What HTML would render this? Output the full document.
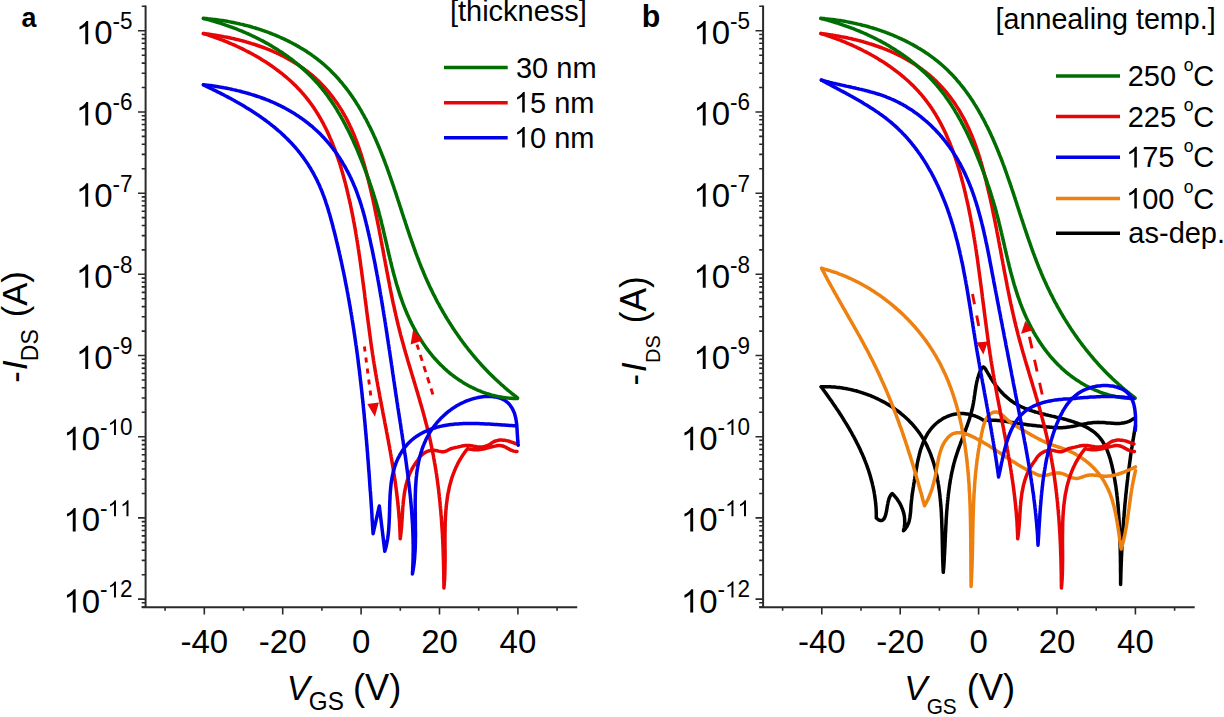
<!DOCTYPE html>
<html><head><meta charset="utf-8"><style>
html,body{margin:0;padding:0;background:#fff;}
body{width:1224px;height:717px;overflow:hidden;}
svg{display:block;font-family:"Liberation Sans",sans-serif;}
</style></head><body>
<svg width="1224" height="717" viewBox="0 0 1224 717">
<rect width="1224" height="717" fill="#fff"/>
<path d="M145.6,5.4V608.1" stroke="#2a2a2a" stroke-width="2" fill="none"/>
<path d="M141.7,607.2H577.2" stroke="#2a2a2a" stroke-width="2" fill="none"/>
<path d="M141.7,607H145.6M141.7,602.8H145.6M138,599.1H145.6M141.7,574.7H145.6M141.7,560.4H145.6M141.7,550.2H145.6M141.7,542.4H145.6M141.7,535.9H145.6M141.7,530.5H145.6M141.7,525.8H145.6M141.7,521.6H145.6M138,517.9H145.6M141.7,493.5H145.6M141.7,479.2H145.6M141.7,469H145.6M141.7,461.2H145.6M141.7,454.7H145.6M141.7,449.3H145.6M141.7,444.6H145.6M141.7,440.4H145.6M138,436.7H145.6M141.7,412.3H145.6M141.7,398H145.6M141.7,387.8H145.6M141.7,380H145.6M141.7,373.5H145.6M141.7,368.1H145.6M141.7,363.4H145.6M141.7,359.2H145.6M138,355.5H145.6M141.7,331.1H145.6M141.7,316.8H145.6M141.7,306.6H145.6M141.7,298.8H145.6M141.7,292.4H145.6M141.7,286.9H145.6M141.7,282.2H145.6M141.7,278.1H145.6M138,274.3H145.6M141.7,249.9H145.6M141.7,235.6H145.6M141.7,225.5H145.6M141.7,217.6H145.6M141.7,211.2H145.6M141.7,205.7H145.6M141.7,201H145.6M141.7,196.9H145.6M138,193.2H145.6M141.7,168.7H145.6M141.7,154.4H145.6M141.7,144.3H145.6M141.7,136.4H145.6M141.7,130H145.6M141.7,124.5H145.6M141.7,119.8H145.6M141.7,115.7H145.6M138,112H145.6M141.7,87.5H145.6M141.7,73.2H145.6M141.7,63.1H145.6M141.7,55.2H145.6M141.7,48.8H145.6M141.7,43.3H145.6M141.7,38.6H145.6M141.7,34.5H145.6M138,30.8H145.6M141.7,6.3H145.6" stroke="#2a2a2a" stroke-width="1.6" fill="none"/>
<path d="M165.1,607.2V610.8M204.3,607.2V614.4M243.5,607.2V610.8M282.7,607.2V614.4M321.9,607.2V610.8M361.1,607.2V614.4M400.3,607.2V610.8M439.5,607.2V614.4M478.7,607.2V610.8M517.9,607.2V614.4M557.1,607.2V610.8" stroke="#2a2a2a" stroke-width="1.6" fill="none"/>
<g transform="translate(132.6,612.6) scale(1,1.03)" fill="#000"><path transform="translate(-69.23,0) scale(0.01611,-0.01611)" d="M583,0L583,1102Q518,1043 420,985Q307,924 223,894L223,1061Q374,1129 480,1220Q604,1325 647,1409L763,1409L763,0Z"/><text x="-50.87" y="0" font-size="33">0</text><text x="-32.52" y="-14.69" font-size="22.5">-</text><path transform="translate(-25.03,-14.69) scale(0.01099,-0.01099)" d="M583,0L583,1102Q518,1043 420,985Q307,924 223,894L223,1061Q374,1129 480,1220Q604,1325 647,1409L763,1409L763,0Z"/><text x="-12.51" y="-14.69" font-size="22.5">2</text></g>
<g transform="translate(132.6,531.41) scale(1,1.03)" fill="#000"><path transform="translate(-69.23,0) scale(0.01611,-0.01611)" d="M583,0L583,1102Q518,1043 420,985Q307,924 223,894L223,1061Q374,1129 480,1220Q604,1325 647,1409L763,1409L763,0Z"/><text x="-50.87" y="0" font-size="33">0</text><text x="-32.52" y="-14.69" font-size="22.5">-</text><path transform="translate(-25.03,-14.69) scale(0.01099,-0.01099)" d="M583,0L583,1102Q518,1043 420,985Q307,924 223,894L223,1061Q374,1129 480,1220Q604,1325 647,1409L763,1409L763,0Z"/><path transform="translate(-12.51,-14.69) scale(0.01099,-0.01099)" d="M583,0L583,1102Q518,1043 420,985Q307,924 223,894L223,1061Q374,1129 480,1220Q604,1325 647,1409L763,1409L763,0Z"/></g>
<g transform="translate(132.6,450.22) scale(1,1.03)" fill="#000"><path transform="translate(-69.23,0) scale(0.01611,-0.01611)" d="M583,0L583,1102Q518,1043 420,985Q307,924 223,894L223,1061Q374,1129 480,1220Q604,1325 647,1409L763,1409L763,0Z"/><text x="-50.87" y="0" font-size="33">0</text><text x="-32.52" y="-14.69" font-size="22.5">-</text><path transform="translate(-25.03,-14.69) scale(0.01099,-0.01099)" d="M583,0L583,1102Q518,1043 420,985Q307,924 223,894L223,1061Q374,1129 480,1220Q604,1325 647,1409L763,1409L763,0Z"/><text x="-12.51" y="-14.69" font-size="22.5">0</text></g>
<g transform="translate(132.6,369.03) scale(1,1.03)" fill="#000"><path transform="translate(-56.71,0) scale(0.01611,-0.01611)" d="M583,0L583,1102Q518,1043 420,985Q307,924 223,894L223,1061Q374,1129 480,1220Q604,1325 647,1409L763,1409L763,0Z"/><text x="-38.36" y="0" font-size="33">0</text><text x="-20.01" y="-14.69" font-size="22.5">-9</text></g>
<g transform="translate(132.6,287.84) scale(1,1.03)" fill="#000"><path transform="translate(-56.71,0) scale(0.01611,-0.01611)" d="M583,0L583,1102Q518,1043 420,985Q307,924 223,894L223,1061Q374,1129 480,1220Q604,1325 647,1409L763,1409L763,0Z"/><text x="-38.36" y="0" font-size="33">0</text><text x="-20.01" y="-14.69" font-size="22.5">-8</text></g>
<g transform="translate(132.6,206.65) scale(1,1.03)" fill="#000"><path transform="translate(-56.71,0) scale(0.01611,-0.01611)" d="M583,0L583,1102Q518,1043 420,985Q307,924 223,894L223,1061Q374,1129 480,1220Q604,1325 647,1409L763,1409L763,0Z"/><text x="-38.36" y="0" font-size="33">0</text><text x="-20.01" y="-14.69" font-size="22.5">-7</text></g>
<g transform="translate(132.6,125.46) scale(1,1.03)" fill="#000"><path transform="translate(-56.71,0) scale(0.01611,-0.01611)" d="M583,0L583,1102Q518,1043 420,985Q307,924 223,894L223,1061Q374,1129 480,1220Q604,1325 647,1409L763,1409L763,0Z"/><text x="-38.36" y="0" font-size="33">0</text><text x="-20.01" y="-14.69" font-size="22.5">-6</text></g>
<g transform="translate(132.6,44.27) scale(1,1.03)" fill="#000"><path transform="translate(-56.71,0) scale(0.01611,-0.01611)" d="M583,0L583,1102Q518,1043 420,985Q307,924 223,894L223,1061Q374,1129 480,1220Q604,1325 647,1409L763,1409L763,0Z"/><text x="-38.36" y="0" font-size="33">0</text><text x="-20.01" y="-14.69" font-size="22.5">-5</text></g>
<g transform="translate(204.3,652.6) scale(1,1.03)" fill="#000"><text x="-23.85" y="0" font-size="33">-40</text></g>
<g transform="translate(282.7,652.6) scale(1,1.03)" fill="#000"><text x="-23.85" y="0" font-size="33">-20</text></g>
<g transform="translate(361.1,652.6) scale(1,1.03)" fill="#000"><text x="-9.18" y="0" font-size="33">0</text></g>
<g transform="translate(439.5,652.6) scale(1,1.03)" fill="#000"><text x="-18.35" y="0" font-size="33">20</text></g>
<g transform="translate(517.9,652.6) scale(1,1.03)" fill="#000"><text x="-18.35" y="0" font-size="33">40</text></g>
<path d="M763.1,5.4V608.1" stroke="#2a2a2a" stroke-width="2" fill="none"/>
<path d="M759.2,607.2H1194.7" stroke="#2a2a2a" stroke-width="2" fill="none"/>
<path d="M759.2,607H763.1M759.2,602.8H763.1M755.5,599.1H763.1M759.2,574.7H763.1M759.2,560.4H763.1M759.2,550.2H763.1M759.2,542.4H763.1M759.2,535.9H763.1M759.2,530.5H763.1M759.2,525.8H763.1M759.2,521.6H763.1M755.5,517.9H763.1M759.2,493.5H763.1M759.2,479.2H763.1M759.2,469H763.1M759.2,461.2H763.1M759.2,454.7H763.1M759.2,449.3H763.1M759.2,444.6H763.1M759.2,440.4H763.1M755.5,436.7H763.1M759.2,412.3H763.1M759.2,398H763.1M759.2,387.8H763.1M759.2,380H763.1M759.2,373.5H763.1M759.2,368.1H763.1M759.2,363.4H763.1M759.2,359.2H763.1M755.5,355.5H763.1M759.2,331.1H763.1M759.2,316.8H763.1M759.2,306.6H763.1M759.2,298.8H763.1M759.2,292.4H763.1M759.2,286.9H763.1M759.2,282.2H763.1M759.2,278.1H763.1M755.5,274.3H763.1M759.2,249.9H763.1M759.2,235.6H763.1M759.2,225.5H763.1M759.2,217.6H763.1M759.2,211.2H763.1M759.2,205.7H763.1M759.2,201H763.1M759.2,196.9H763.1M755.5,193.2H763.1M759.2,168.7H763.1M759.2,154.4H763.1M759.2,144.3H763.1M759.2,136.4H763.1M759.2,130H763.1M759.2,124.5H763.1M759.2,119.8H763.1M759.2,115.7H763.1M755.5,112H763.1M759.2,87.5H763.1M759.2,73.2H763.1M759.2,63.1H763.1M759.2,55.2H763.1M759.2,48.8H763.1M759.2,43.3H763.1M759.2,38.6H763.1M759.2,34.5H763.1M755.5,30.8H763.1M759.2,6.3H763.1" stroke="#2a2a2a" stroke-width="1.6" fill="none"/>
<path d="M782.6,607.2V610.8M821.8,607.2V614.4M861,607.2V610.8M900.2,607.2V614.4M939.4,607.2V610.8M978.6,607.2V614.4M1017.8,607.2V610.8M1057,607.2V614.4M1096.2,607.2V610.8M1135.4,607.2V614.4M1174.6,607.2V610.8" stroke="#2a2a2a" stroke-width="1.6" fill="none"/>
<g transform="translate(750.1,612.6) scale(1,1.03)" fill="#000"><path transform="translate(-69.23,0) scale(0.01611,-0.01611)" d="M583,0L583,1102Q518,1043 420,985Q307,924 223,894L223,1061Q374,1129 480,1220Q604,1325 647,1409L763,1409L763,0Z"/><text x="-50.87" y="0" font-size="33">0</text><text x="-32.52" y="-14.69" font-size="22.5">-</text><path transform="translate(-25.03,-14.69) scale(0.01099,-0.01099)" d="M583,0L583,1102Q518,1043 420,985Q307,924 223,894L223,1061Q374,1129 480,1220Q604,1325 647,1409L763,1409L763,0Z"/><text x="-12.51" y="-14.69" font-size="22.5">2</text></g>
<g transform="translate(750.1,531.41) scale(1,1.03)" fill="#000"><path transform="translate(-69.23,0) scale(0.01611,-0.01611)" d="M583,0L583,1102Q518,1043 420,985Q307,924 223,894L223,1061Q374,1129 480,1220Q604,1325 647,1409L763,1409L763,0Z"/><text x="-50.87" y="0" font-size="33">0</text><text x="-32.52" y="-14.69" font-size="22.5">-</text><path transform="translate(-25.03,-14.69) scale(0.01099,-0.01099)" d="M583,0L583,1102Q518,1043 420,985Q307,924 223,894L223,1061Q374,1129 480,1220Q604,1325 647,1409L763,1409L763,0Z"/><path transform="translate(-12.51,-14.69) scale(0.01099,-0.01099)" d="M583,0L583,1102Q518,1043 420,985Q307,924 223,894L223,1061Q374,1129 480,1220Q604,1325 647,1409L763,1409L763,0Z"/></g>
<g transform="translate(750.1,450.22) scale(1,1.03)" fill="#000"><path transform="translate(-69.23,0) scale(0.01611,-0.01611)" d="M583,0L583,1102Q518,1043 420,985Q307,924 223,894L223,1061Q374,1129 480,1220Q604,1325 647,1409L763,1409L763,0Z"/><text x="-50.87" y="0" font-size="33">0</text><text x="-32.52" y="-14.69" font-size="22.5">-</text><path transform="translate(-25.03,-14.69) scale(0.01099,-0.01099)" d="M583,0L583,1102Q518,1043 420,985Q307,924 223,894L223,1061Q374,1129 480,1220Q604,1325 647,1409L763,1409L763,0Z"/><text x="-12.51" y="-14.69" font-size="22.5">0</text></g>
<g transform="translate(750.1,369.03) scale(1,1.03)" fill="#000"><path transform="translate(-56.71,0) scale(0.01611,-0.01611)" d="M583,0L583,1102Q518,1043 420,985Q307,924 223,894L223,1061Q374,1129 480,1220Q604,1325 647,1409L763,1409L763,0Z"/><text x="-38.36" y="0" font-size="33">0</text><text x="-20.01" y="-14.69" font-size="22.5">-9</text></g>
<g transform="translate(750.1,287.84) scale(1,1.03)" fill="#000"><path transform="translate(-56.71,0) scale(0.01611,-0.01611)" d="M583,0L583,1102Q518,1043 420,985Q307,924 223,894L223,1061Q374,1129 480,1220Q604,1325 647,1409L763,1409L763,0Z"/><text x="-38.36" y="0" font-size="33">0</text><text x="-20.01" y="-14.69" font-size="22.5">-8</text></g>
<g transform="translate(750.1,206.65) scale(1,1.03)" fill="#000"><path transform="translate(-56.71,0) scale(0.01611,-0.01611)" d="M583,0L583,1102Q518,1043 420,985Q307,924 223,894L223,1061Q374,1129 480,1220Q604,1325 647,1409L763,1409L763,0Z"/><text x="-38.36" y="0" font-size="33">0</text><text x="-20.01" y="-14.69" font-size="22.5">-7</text></g>
<g transform="translate(750.1,125.46) scale(1,1.03)" fill="#000"><path transform="translate(-56.71,0) scale(0.01611,-0.01611)" d="M583,0L583,1102Q518,1043 420,985Q307,924 223,894L223,1061Q374,1129 480,1220Q604,1325 647,1409L763,1409L763,0Z"/><text x="-38.36" y="0" font-size="33">0</text><text x="-20.01" y="-14.69" font-size="22.5">-6</text></g>
<g transform="translate(750.1,44.27) scale(1,1.03)" fill="#000"><path transform="translate(-56.71,0) scale(0.01611,-0.01611)" d="M583,0L583,1102Q518,1043 420,985Q307,924 223,894L223,1061Q374,1129 480,1220Q604,1325 647,1409L763,1409L763,0Z"/><text x="-38.36" y="0" font-size="33">0</text><text x="-20.01" y="-14.69" font-size="22.5">-5</text></g>
<g transform="translate(821.8,652.6) scale(1,1.03)" fill="#000"><text x="-23.85" y="0" font-size="33">-40</text></g>
<g transform="translate(900.2,652.6) scale(1,1.03)" fill="#000"><text x="-23.85" y="0" font-size="33">-20</text></g>
<g transform="translate(978.6,652.6) scale(1,1.03)" fill="#000"><text x="-9.18" y="0" font-size="33">0</text></g>
<g transform="translate(1057,652.6) scale(1,1.03)" fill="#000"><text x="-18.35" y="0" font-size="33">20</text></g>
<g transform="translate(1135.4,652.6) scale(1,1.03)" fill="#000"><text x="-18.35" y="0" font-size="33">40</text></g>
<path d="M203.4,33.5 204.8,33.9 206.2,34.4 207.7,34.9 209.1,35.3 210.5,35.8 211.9,36.3 213.4,36.8 214.8,37.3 216.2,37.8 217.6,38.3 219,38.8 220.4,39.4 221.9,39.9 223.3,40.5 224.7,41 226.1,41.6 227.5,42.2 228.9,42.8 230.3,43.4 231.7,44 233.1,44.6 234.5,45.2 235.9,45.8 237.3,46.5 238.7,47.1 240,47.8 241.4,48.4 242.8,49.1 244.2,49.8 245.5,50.5 246.9,51.2 248.3,51.9 249.6,52.6 251,53.3 252.3,54 253.6,54.8 255,55.5 256.3,56.3 257.6,57 258.9,57.8 260.2,58.6 261.5,59.4 262.8,60.2 264.1,61 265.4,61.8 266.7,62.6 268,63.5 269.2,64.3 270.5,65.2 271.7,66 273,66.9 274.2,67.8 275.4,68.7 276.6,69.6 277.8,70.5 279,71.4 280.2,72.3 281.4,73.2 282.6,74.2 283.8,75.1 284.9,76.1 286.1,77 287.2,78 288.3,79 289.5,80 290.6,81 291.7,82 292.7,83 293.8,84.1 294.9,85.1 295.9,86.1 297,87.2 298,88.3 299,89.3 300.1,90.4 301.1,91.5 302,92.6 303,93.7 304,94.9 304.9,96 305.9,97.1 306.8,98.3 307.7,99.4 308.6,100.6 309.5,101.8 310.4,103 311.2,104.1 312.1,105.3 312.9,106.5 313.8,107.8 314.6,109 315.4,110.2 316.2,111.5 317,112.7 317.8,114 318.5,115.2 319.3,116.5 320,117.8 320.8,119 321.5,120.3 322.2,121.6 322.9,122.9 323.6,124.2 324.3,125.6 325,126.9 325.6,128.2 326.3,129.5 326.9,130.9 327.6,132.2 328.2,133.6 328.8,134.9 329.4,136.3 330,137.7 330.6,139 331.2,140.4 331.8,141.8 332.4,143.2 332.9,144.6 333.5,146 334,147.4 334.6,148.8 335.1,150.2 335.6,151.6 336.1,153 336.6,154.4 337.1,155.8 337.6,157.3 338.1,158.7 338.6,160.1 339.1,161.6 339.5,163 340,164.4 340.4,165.9 340.9,167.3 341.3,168.8 341.7,170.2 342.2,171.7 342.6,173.1 343,174.6 343.4,176.1 343.8,177.5 344.2,179 344.6,180.5 345,181.9 345.4,183.4 345.8,184.9 346.1,186.3 346.5,187.8 346.9,189.3 347.2,190.7 347.6,192.2 347.9,193.7 348.3,195.2 348.6,196.6 348.9,198.1 349.3,199.6 349.6,201.1 349.9,202.5 350.3,204 350.6,205.5 350.9,207 351.2,208.4 351.5,209.9 351.8,211.4 352.1,212.9 352.4,214.4 352.7,215.8 353,217.3 353.3,218.8 353.5,220.3 353.8,221.8 354.1,223.2 354.4,224.7 354.6,226.2 354.9,227.7 355.2,229.2 355.4,230.7 355.7,232.1 355.9,233.6 356.2,235.1 356.4,236.6 356.7,238.1 356.9,239.6 357.2,241.1 357.4,242.5 357.6,244 357.9,245.5 358.1,247 358.3,248.5 358.6,250 358.8,251.5 359,253 359.2,254.5 359.4,255.9 359.7,257.4 359.9,258.9 360.1,260.4 360.3,261.9 360.5,263.4 360.7,264.9 360.9,266.4 361.1,267.9 361.3,269.4 361.5,270.8 361.7,272.3 361.9,273.8 362.1,275.3 362.3,276.8 362.5,278.3 362.7,279.8 362.9,281.3 363.1,282.8 363.3,284.3 363.5,285.8 363.7,287.3 363.9,288.7 364.1,290.2 364.3,291.7 364.5,293.2 364.7,294.7 364.8,296.2 365,297.7 365.2,299.2 365.4,300.7 365.6,302.2 365.8,303.7 366,305.2 366.2,306.7 366.4,308.1 366.5,309.6 366.7,311.1 366.9,312.6 367.1,314.1 367.3,315.6 367.5,317.1 367.7,318.6 367.9,320.1 368.1,321.6 368.3,323.1 368.5,324.6 368.7,326 368.9,327.5 369.1,329 369.3,330.5 369.5,332 369.7,333.5 369.9,335 370.1,336.5 370.3,338 370.5,339.5 370.7,341 370.9,342.4 371.1,343.9 371.3,345.4 371.5,346.9 371.7,348.4 372,349.9 372.2,351.4 372.4,352.9 372.6,354.3 372.9,355.8 373.1,357.3 373.3,358.8 373.5,360.3 373.8,361.8 374,363.3 374.3,364.7 374.5,366.2 374.7,367.7 375,369.2 375.2,370.7 375.5,372.2 375.7,373.6 376,375.1 376.3,376.6 376.5,378.1 376.8,379.6 377,381.1 377.3,382.5 377.6,384 377.8,385.5 378.1,387 378.4,388.5 378.6,389.9 378.9,391.4 379.2,392.9 379.5,394.4 379.7,395.8 380,397.3 380.3,398.8 380.6,400.3 380.9,401.8 381.1,403.2 381.4,404.7 381.7,406.2 382,407.7 382.3,409.2 382.6,410.6 382.8,412.1 383.1,413.6 383.4,415.1 383.7,416.5 384,418 384.3,419.5 384.6,421 384.8,422.5 385.1,423.9 385.4,425.4 385.7,426.9 386,428.4 386.3,429.8 386.5,431.3 386.8,432.8 387.1,434.3 387.4,435.8 387.6,437.2 387.9,438.7 388.2,440.2 388.5,441.7 388.7,443.2 389,444.6 389.3,446.1 389.6,447.6 389.8,449.1 390.1,450.6 390.4,452 390.6,453.5 390.9,455 391.1,456.5 391.4,458 391.6,459.4 391.9,460.9 392.1,462.4 392.4,463.9 392.6,465.4 392.9,466.9 393.1,468.3 393.4,469.8 393.6,471.3 393.8,472.8 394.1,474.3 394.3,475.8 394.5,477.3 394.7,478.7 394.9,480.2 395.2,481.7 395.4,483.2 395.6,484.7 395.8,486.2 396,487.7 396.2,489.2 396.4,490.7 396.6,492.2 396.7,493.6 396.9,495.1 397.1,496.6 397.3,498.1 397.4,499.6 397.6,501.1 397.8,502.6 397.9,504.1 398.1,505.6 398.2,507.1 398.4,508.6 398.5,510.1 398.7,511.6 398.8,513.1 398.9,514.6 399,516.1 399.1,517.6 399.3,519.1 399.4,520.6 399.5,522.1 399.6,523.6 399.6,525.1 399.7,526.6 399.8,528.1 399.9,529.6 399.9,531.1 400,532.7 400.1,534.2 400.1,535.7 400.2,537.2 400.2,538.7 400.4,537.2 400.6,535.7 400.8,534.2 401,532.7 401.1,531.1 401.3,529.6 401.4,528.1 401.6,526.6 401.7,525 401.8,523.5 401.9,521.9 402,520.4 402.1,518.8 402.2,517.3 402.3,515.7 402.4,514.2 402.5,512.6 402.6,511.1 402.7,509.5 402.8,508 402.9,506.4 403.1,504.9 403.2,503.3 403.3,501.8 403.5,500.2 403.7,498.7 403.9,497.2 404.1,495.6 404.3,494.1 404.5,492.6 404.8,491.1 405.1,489.6 405.4,488.1 405.7,486.6 406,485.1 406.4,483.6 406.8,482.2 407.2,480.7 407.7,479.3 408.2,477.8 408.7,476.4 409.2,475 409.8,473.6 410.4,472.2 411.1,470.8 411.8,469.4 412.5,468.1 413.3,466.7 414.1,465.4 415,464.1 415.9,462.8 416.8,461.5 417.8,460.2 418.6,458.8 419.5,457.5 420.4,456.3 421.5,455.2 422.7,454.2 423.9,453.2 425.3,452.4 426.6,451.7 428,451.1 429.5,450.7 431,450.4 432.5,450.2 434,450.2 435.5,450.4 437,450.7 438.5,451.1 440,451.4 441.5,451.7 443,451.8 444.4,451.7 445.9,451.2 447.3,450.5 448.7,449.7 450.1,449 451.6,448.5 453.1,448.1 454.5,447.8 456,447.4 457.5,447.1 459,446.7 460.5,446.4 462.1,446 463.6,445.8 465.1,445.6 466.6,445.5 468.1,445.5 469.6,445.6 471.1,445.7 472.6,446 474.1,446.3 475.6,446.5 477.1,446.8 478.6,446.9 480.1,447 481.7,447 483.2,446.8 484.7,446.5 486.2,446 487.7,445.4 489.1,444.7 490.4,443.9 491.7,443.1 492.9,442.2 494.2,441.5 495.6,441 497,440.6 498.5,440.3 500,440.1 501.5,440.1 503.1,440.2 504.7,440.3 506.2,440.6 507.8,440.9 509.3,441.3 510.8,441.8 512.3,442.3 513.7,442.8 515.1,443.4 516.4,444" stroke="#e80505" stroke-width="3.5" fill="none" stroke-linejoin="round" stroke-linecap="round"/>
<path d="M203.4,33.5 204.8,33.7 206.3,33.9 207.7,34.1 209.2,34.3 210.6,34.5 212.1,34.7 213.5,34.9 215,35.1 216.5,35.4 217.9,35.6 219.4,35.9 220.9,36.1 222.3,36.4 223.8,36.7 225.3,36.9 226.8,37.2 228.2,37.5 229.7,37.8 231.2,38.2 232.7,38.5 234.2,38.8 235.6,39.2 237.1,39.5 238.6,39.9 240.1,40.3 241.5,40.6 243,41 244.5,41.4 245.9,41.8 247.4,42.3 248.9,42.7 250.3,43.1 251.8,43.6 253.2,44 254.7,44.5 256.2,45 257.6,45.5 259,46 260.5,46.5 261.9,47 263.4,47.5 264.8,48 266.2,48.6 267.6,49.2 269,49.7 270.5,50.3 271.9,50.9 273.3,51.5 274.6,52.1 276,52.7 277.4,53.4 278.8,54 280.1,54.7 281.5,55.4 282.9,56 284.2,56.7 285.5,57.4 286.9,58.2 288.2,58.9 289.5,59.6 290.8,60.4 292.1,61.1 293.4,61.9 294.7,62.7 296,63.5 297.2,64.3 298.5,65.1 299.7,66 301,66.8 302.2,67.7 303.4,68.5 304.6,69.4 305.8,70.3 307,71.2 308.2,72.1 309.4,73.1 310.5,74 311.7,74.9 312.8,75.9 313.9,76.9 315.1,77.9 316.2,78.9 317.2,79.9 318.3,80.9 319.4,81.9 320.4,83 321.5,84 322.5,85.1 323.5,86.2 324.5,87.3 325.5,88.4 326.5,89.5 327.5,90.6 328.4,91.7 329.4,92.9 330.3,94 331.2,95.2 332.1,96.4 333,97.6 333.9,98.8 334.8,100 335.7,101.2 336.5,102.4 337.4,103.6 338.2,104.9 339,106.1 339.8,107.4 340.6,108.6 341.4,109.9 342.2,111.2 342.9,112.5 343.7,113.8 344.4,115.1 345.1,116.4 345.9,117.7 346.6,119 347.3,120.3 347.9,121.7 348.6,123 349.3,124.4 349.9,125.7 350.6,127.1 351.2,128.4 351.8,129.8 352.4,131.2 353,132.6 353.6,133.9 354.2,135.3 354.8,136.7 355.3,138.1 355.9,139.5 356.4,140.9 356.9,142.3 357.5,143.7 358,145.2 358.5,146.6 359,148 359.5,149.4 359.9,150.9 360.4,152.3 360.9,153.7 361.4,155.2 361.8,156.6 362.3,158.1 362.7,159.5 363.1,161 363.6,162.4 364,163.9 364.4,165.3 364.8,166.8 365.2,168.2 365.6,169.7 366,171.2 366.4,172.6 366.8,174.1 367.2,175.5 367.5,177 367.9,178.5 368.3,179.9 368.7,181.4 369,182.9 369.4,184.3 369.7,185.8 370.1,187.3 370.4,188.7 370.8,190.2 371.1,191.7 371.5,193.2 371.8,194.6 372.1,196.1 372.5,197.6 372.8,199 373.1,200.5 373.4,202 373.8,203.5 374.1,204.9 374.4,206.4 374.7,207.9 375,209.4 375.3,210.8 375.6,212.3 375.9,213.8 376.2,215.3 376.5,216.7 376.8,218.2 377.1,219.7 377.4,221.2 377.7,222.6 378,224.1 378.3,225.6 378.6,227.1 378.9,228.5 379.2,230 379.4,231.5 379.7,233 380,234.4 380.3,235.9 380.6,237.4 380.9,238.9 381.1,240.3 381.4,241.8 381.7,243.3 382,244.8 382.2,246.3 382.5,247.7 382.8,249.2 383.1,250.7 383.3,252.2 383.6,253.6 383.9,255.1 384.2,256.6 384.4,258.1 384.7,259.5 385,261 385.3,262.5 385.5,264 385.8,265.4 386.1,266.9 386.4,268.4 386.6,269.9 386.9,271.3 387.2,272.8 387.5,274.3 387.8,275.8 388,277.2 388.3,278.7 388.6,280.2 388.9,281.7 389.2,283.1 389.5,284.6 389.7,286.1 390,287.6 390.3,289 390.6,290.5 390.9,292 391.2,293.4 391.5,294.9 391.8,296.4 392.1,297.8 392.4,299.3 392.7,300.8 393,302.3 393.3,303.7 393.7,305.2 394,306.7 394.3,308.1 394.6,309.6 394.9,311.1 395.3,312.5 395.6,314 395.9,315.4 396.3,316.9 396.6,318.4 396.9,319.8 397.3,321.3 397.6,322.8 398,324.2 398.3,325.7 398.7,327.1 399.1,328.6 399.4,330.1 399.8,331.5 400.2,333 400.5,334.4 400.9,335.9 401.3,337.3 401.7,338.8 402.1,340.2 402.5,341.7 402.9,343.1 403.3,344.6 403.7,346 404.1,347.5 404.5,348.9 404.9,350.4 405.3,351.8 405.7,353.3 406.2,354.7 406.6,356.2 407,357.6 407.4,359.1 407.8,360.5 408.3,362 408.7,363.4 409.1,364.9 409.6,366.3 410,367.8 410.4,369.2 410.9,370.6 411.3,372.1 411.7,373.5 412.2,375 412.6,376.4 413,377.9 413.5,379.3 413.9,380.8 414.3,382.2 414.8,383.6 415.2,385.1 415.6,386.5 416.1,388 416.5,389.4 416.9,390.9 417.4,392.3 417.8,393.8 418.2,395.2 418.6,396.6 419.1,398.1 419.5,399.5 419.9,401 420.3,402.4 420.7,403.9 421.2,405.3 421.6,406.8 422,408.2 422.4,409.7 422.8,411.1 423.2,412.6 423.6,414 424,415.5 424.4,416.9 424.8,418.4 425.1,419.8 425.5,421.3 425.9,422.7 426.3,424.2 426.7,425.6 427,427.1 427.4,428.5 427.7,430 428.1,431.5 428.5,432.9 428.8,434.4 429.1,435.8 429.5,437.3 429.8,438.8 430.2,440.2 430.5,441.7 430.8,443.1 431.1,444.6 431.4,446.1 431.7,447.5 432,449 432.3,450.5 432.6,451.9 432.9,453.4 433.2,454.9 433.5,456.4 433.7,457.8 434,459.3 434.3,460.8 434.5,462.3 434.8,463.7 435,465.2 435.3,466.7 435.5,468.2 435.8,469.6 436,471.1 436.2,472.6 436.5,474.1 436.7,475.6 436.9,477.1 437.1,478.5 437.3,480 437.5,481.5 437.7,483 437.9,484.5 438.1,486 438.3,487.5 438.5,489 438.7,490.4 438.8,491.9 439,493.4 439.2,494.9 439.3,496.4 439.5,497.9 439.7,499.4 439.8,500.9 440,502.4 440.1,503.9 440.2,505.4 440.4,506.9 440.5,508.4 440.7,509.9 440.8,511.4 440.9,512.9 441,514.4 441.2,515.9 441.3,517.4 441.4,518.9 441.5,520.4 441.6,521.9 441.7,523.4 441.8,524.9 441.9,526.4 442,527.9 442.1,529.4 442.2,530.9 442.3,532.4 442.4,533.9 442.5,535.4 442.5,536.9 442.6,538.4 442.7,539.9 442.8,541.4 442.8,542.9 442.9,544.4 443,545.9 443,547.4 443.1,548.9 443.1,550.4 443.2,551.9 443.2,553.4 443.3,554.9 443.3,556.4 443.4,558 443.4,559.5 443.5,561 443.5,562.5 443.5,564 443.6,565.5 443.6,567 443.6,568.5 443.7,570 443.7,571.5 443.7,573 443.8,574.5 443.8,576 443.8,577.5 443.8,579.1 443.8,580.6 443.9,582.1 443.9,583.6 443.9,585.1 443.9,586.6 443.9,588.1 444,586.6 444.2,585.2 444.3,583.7 444.4,582.2 444.5,580.8 444.6,579.3 444.7,577.8 444.7,576.3 444.8,574.8 444.8,573.3 444.9,571.8 444.9,570.3 445,568.8 445,567.3 445,565.8 445,564.2 445.1,562.7 445.1,561.2 445.1,559.7 445.1,558.1 445.1,556.6 445.1,555 445.1,553.5 445.1,552 445.1,550.4 445,548.9 445,547.3 445,545.8 445,544.2 445,542.7 445,541.1 445,539.6 445,538 445,536.5 445,534.9 445,533.4 445.1,531.8 445.1,530.3 445.1,528.7 445.1,527.2 445.2,525.6 445.2,524.1 445.2,522.6 445.3,521 445.4,519.5 445.4,517.9 445.5,516.4 445.6,514.9 445.7,513.3 445.8,511.8 445.9,510.3 446.1,508.8 446.2,507.2 446.3,505.7 446.5,504.2 446.7,502.7 446.9,501.2 447.1,499.7 447.3,498.2 447.5,496.7 447.7,495.2 448,493.7 448.3,492.3 448.6,490.8 448.9,489.3 449.2,487.9 449.5,486.4 449.9,484.9 450.3,483.5 450.7,482.1 451.1,480.6 451.5,479.2 451.9,477.8 452.4,476.4 452.9,475 453.4,473.6 454,472.2 454.5,470.8 455.1,469.4 455.7,468.1 456.3,466.7 457,465.3 457.6,464 458.3,462.7 459,461.3 459.8,460 460.6,458.7 461.4,457.4 462.2,456.1 463,454.8 463.9,453.6 464.8,452.3 465.7,451.1 466.7,449.8 467.7,448.6 469.2,449 470.8,449.3 472.3,449.5 473.9,449.7 475.4,449.8 476.9,449.7 478.5,449.7 480,449.5 481.5,449.3 483.1,449 484.6,448.7 486.1,448.3 487.7,447.9 489.2,447.5 490.7,447.1 492.3,446.7 493.8,446.4 495.3,446.1 496.8,445.8 498.3,445.6 499.8,445.6 501.3,445.7 502.7,446 504.1,446.5 505.5,447.1 506.8,447.9 508.2,448.6 509.6,449.4 511,450.1 512.5,450.7 513.9,451.1 515.4,451.4 517,451.5" stroke="#e80505" stroke-width="3.5" fill="none" stroke-linejoin="round" stroke-linecap="round"/>
<path d="M203.4,84.9 204.7,85.5 206.1,86.2 207.4,86.8 208.7,87.4 210.1,88.1 211.4,88.7 212.8,89.4 214.1,90.1 215.4,90.7 216.8,91.4 218.1,92.1 219.5,92.7 220.8,93.4 222.1,94.1 223.5,94.8 224.8,95.5 226.2,96.2 227.5,96.9 228.8,97.6 230.2,98.3 231.5,99 232.8,99.8 234.2,100.5 235.5,101.3 236.8,102 238.1,102.7 239.5,103.5 240.8,104.3 242.1,105 243.4,105.8 244.7,106.6 246,107.4 247.3,108.2 248.6,109 249.9,109.8 251.2,110.6 252.5,111.4 253.7,112.2 255,113.1 256.3,113.9 257.5,114.8 258.8,115.6 260.1,116.5 261.3,117.4 262.5,118.2 263.8,119.1 265,120 266.2,120.9 267.4,121.8 268.6,122.7 269.8,123.7 271,124.6 272.2,125.5 273.4,126.5 274.6,127.4 275.7,128.4 276.9,129.4 278,130.4 279.2,131.3 280.3,132.3 281.4,133.3 282.5,134.4 283.6,135.4 284.7,136.4 285.8,137.5 286.9,138.5 287.9,139.6 289,140.6 290,141.7 291.1,142.8 292.1,143.9 293.1,145 294.1,146.1 295.1,147.2 296.1,148.4 297,149.5 298,150.7 298.9,151.8 299.9,153 300.8,154.2 301.7,155.4 302.6,156.6 303.5,157.8 304.3,159 305.2,160.2 306,161.4 306.9,162.7 307.7,163.9 308.5,165.2 309.3,166.5 310.1,167.7 310.9,169 311.6,170.3 312.4,171.6 313.1,172.9 313.8,174.2 314.5,175.5 315.2,176.8 315.9,178.2 316.6,179.5 317.3,180.8 317.9,182.2 318.5,183.5 319.2,184.9 319.8,186.3 320.3,187.6 320.9,189 321.5,190.4 322.1,191.8 322.6,193.2 323.1,194.6 323.7,196 324.2,197.4 324.7,198.8 325.2,200.2 325.7,201.7 326.1,203.1 326.6,204.5 327.1,205.9 327.5,207.4 328,208.8 328.4,210.3 328.8,211.7 329.3,213.2 329.7,214.6 330.1,216.1 330.5,217.5 330.9,219 331.3,220.4 331.7,221.9 332.1,223.3 332.5,224.8 332.9,226.3 333.2,227.7 333.6,229.2 334,230.7 334.4,232.1 334.7,233.6 335.1,235 335.5,236.5 335.8,238 336.2,239.4 336.5,240.9 336.9,242.4 337.2,243.8 337.6,245.3 337.9,246.8 338.3,248.3 338.6,249.7 339,251.2 339.3,252.7 339.6,254.1 340,255.6 340.3,257.1 340.6,258.6 340.9,260 341.3,261.5 341.6,263 341.9,264.5 342.2,265.9 342.5,267.4 342.8,268.9 343.2,270.4 343.5,271.8 343.8,273.3 344.1,274.8 344.4,276.3 344.7,277.7 345,279.2 345.2,280.7 345.5,282.2 345.8,283.7 346.1,285.1 346.4,286.6 346.7,288.1 347,289.6 347.2,291.1 347.5,292.5 347.8,294 348.1,295.5 348.3,297 348.6,298.5 348.9,300 349.1,301.4 349.4,302.9 349.6,304.4 349.9,305.9 350.2,307.4 350.4,308.9 350.7,310.4 350.9,311.8 351.2,313.3 351.4,314.8 351.7,316.3 351.9,317.8 352.1,319.3 352.4,320.8 352.6,322.3 352.8,323.7 353.1,325.2 353.3,326.7 353.5,328.2 353.8,329.7 354,331.2 354.2,332.7 354.4,334.2 354.7,335.7 354.9,337.2 355.1,338.7 355.3,340.1 355.5,341.6 355.7,343.1 355.9,344.6 356.2,346.1 356.4,347.6 356.6,349.1 356.8,350.6 357,352.1 357.2,353.6 357.4,355.1 357.6,356.6 357.8,358.1 358,359.6 358.2,361.1 358.3,362.6 358.5,364.1 358.7,365.6 358.9,367 359.1,368.5 359.3,370 359.5,371.5 359.6,373 359.8,374.5 360,376 360.2,377.5 360.3,379 360.5,380.5 360.7,382 360.9,383.5 361,385 361.2,386.5 361.4,388 361.5,389.5 361.7,391 361.9,392.5 362,394 362.2,395.5 362.3,397 362.5,398.5 362.7,400 362.8,401.5 363,403 363.1,404.5 363.3,406 363.4,407.5 363.6,409 363.7,410.5 363.9,412 364,413.5 364.2,415 364.3,416.5 364.4,418 364.6,419.5 364.7,421 364.9,422.5 365,424 365.1,425.5 365.3,427 365.4,428.5 365.5,430 365.7,431.5 365.8,433 365.9,434.5 366.1,436 366.2,437.6 366.3,439.1 366.5,440.6 366.6,442.1 366.7,443.6 366.8,445.1 367,446.6 367.1,448.1 367.2,449.6 367.3,451.1 367.5,452.6 367.6,454.1 367.7,455.6 367.8,457.1 367.9,458.6 368,460.1 368.2,461.6 368.3,463.1 368.4,464.6 368.5,466.1 368.6,467.6 368.7,469.1 368.8,470.6 369,472.1 369.1,473.6 369.2,475.1 369.3,476.6 369.4,478.1 369.5,479.6 369.6,481.1 369.7,482.6 369.8,484.1 369.9,485.6 370,487.2 370.1,488.7 370.2,490.2 370.4,491.7 370.5,493.2 370.6,494.7 370.7,496.2 370.8,497.7 370.9,499.2 371,500.7 371.1,502.2 371.2,503.7 371.3,505.2 371.4,506.7 371.5,508.2 371.6,509.7 371.7,511.2 371.8,512.7 371.9,514.2 372,515.7 372,517.2 372.1,518.7 372.2,520.2 372.3,521.7 372.4,523.2 372.5,524.7 372.6,526.2 372.7,527.7 372.8,529.2 372.9,530.7 373,532.2 373.1,533.7 374.3,528.2 375.6,522.6 376.8,517.1 378.1,511.5 379.3,506 380.4,515 381.5,524.1 382.6,533.1 383.7,542.2 384.8,551.2 385.2,549.8 385.6,548.4 386,547 386.3,545.6 386.6,544.1 386.9,542.7 387.2,541.2 387.4,539.8 387.7,538.3 387.9,536.8 388.1,535.3 388.3,533.8 388.4,532.3 388.6,530.8 388.7,529.3 388.8,527.8 388.9,526.3 389,524.7 389.1,523.2 389.2,521.7 389.2,520.1 389.3,518.6 389.4,517 389.4,515.5 389.5,513.9 389.5,512.3 389.6,510.8 389.6,509.2 389.6,507.7 389.7,506.1 389.7,504.5 389.8,503 389.8,501.4 389.9,499.9 390,498.3 390,496.8 390.1,495.2 390.2,493.7 390.3,492.1 390.4,490.6 390.6,489 390.7,487.5 390.9,486 391,484.4 391.2,482.9 391.4,481.4 391.7,479.9 391.9,478.4 392.2,476.9 392.5,475.4 392.8,474 393.1,472.5 393.5,471 393.9,469.6 394.3,468.2 394.7,466.7 395.2,465.3 395.7,463.9 396.2,462.5 396.8,461.1 397.4,459.8 398,458.4 398.7,457.1 399.4,455.8 400.1,454.4 400.9,453.2 401.6,451.9 402.5,450.6 403.3,449.4 404.2,448.2 405.1,447 406.1,445.9 407,444.7 408.1,443.6 409.1,442.6 410.2,441.5 411.2,440.5 412.4,439.5 413.5,438.6 414.7,437.7 415.9,436.8 417.1,436 418.3,435.2 419.6,434.4 420.9,433.7 422.2,433 423.5,432.3 424.8,431.7 426.2,431.1 427.5,430.5 428.9,429.9 430.2,429.4 431.6,428.9 433,428.4 434.5,428 435.9,427.5 437.3,427.1 438.8,426.8 440.2,426.4 441.7,426.1 443.2,425.8 444.7,425.5 446.2,425.2 447.7,425 449.2,424.8 450.7,424.6 452.2,424.4 453.7,424.2 455.3,424.1 456.8,424 458.4,423.9 459.9,423.8 461.5,423.7 463,423.6 464.6,423.6 466.2,423.5 467.7,423.5 469.3,423.5 470.9,423.5 472.4,423.5 474,423.5 475.6,423.5 477.1,423.6 478.7,423.6 480.3,423.7 481.8,423.7 483.4,423.8 485,423.9 486.5,424 488.1,424 489.6,424.1 491.2,424.2 492.7,424.3 494.3,424.4 495.8,424.5 497.3,424.6 498.8,424.7 500.3,424.8 501.9,424.9 503.3,425 504.8,425.1 506.3,425.2 507.8,425.3 509.3,425.4 510.7,425.5 512.1,425.6 513.6,425.7 515,425.7 516.4,425.8" stroke="#0000ea" stroke-width="3.5" fill="none" stroke-linejoin="round" stroke-linecap="round"/>
<path d="M203.4,84.7 204.9,84.9 206.3,85.1 207.8,85.2 209.2,85.4 210.7,85.6 212.2,85.8 213.7,86.1 215.1,86.3 216.6,86.5 218.1,86.7 219.6,87 221,87.2 222.5,87.5 224,87.8 225.5,88 227,88.3 228.4,88.6 229.9,88.9 231.4,89.2 232.9,89.6 234.4,89.9 235.8,90.2 237.3,90.6 238.8,90.9 240.3,91.3 241.7,91.7 243.2,92.1 244.7,92.5 246.1,92.9 247.6,93.3 249.1,93.7 250.5,94.1 252,94.6 253.4,95 254.9,95.5 256.3,96 257.8,96.5 259.2,96.9 260.7,97.5 262.1,98 263.5,98.5 265,99 266.4,99.6 267.8,100.1 269.2,100.7 270.6,101.3 272,101.9 273.4,102.5 274.8,103.1 276.2,103.8 277.5,104.4 278.9,105.1 280.3,105.7 281.6,106.4 283,107.1 284.3,107.8 285.6,108.5 287,109.2 288.3,110 289.6,110.7 290.9,111.5 292.2,112.3 293.5,113 294.8,113.8 296,114.7 297.3,115.5 298.6,116.3 299.8,117.2 301,118 302.3,118.9 303.5,119.8 304.7,120.6 305.9,121.6 307.1,122.5 308.3,123.4 309.4,124.3 310.6,125.3 311.7,126.2 312.9,127.2 314,128.2 315.1,129.2 316.2,130.2 317.3,131.2 318.4,132.2 319.5,133.3 320.5,134.3 321.6,135.4 322.6,136.5 323.6,137.5 324.6,138.6 325.6,139.7 326.6,140.9 327.6,142 328.6,143.1 329.5,144.3 330.5,145.4 331.4,146.6 332.3,147.7 333.2,148.9 334.1,150.1 335,151.3 335.9,152.5 336.8,153.7 337.6,155 338.4,156.2 339.3,157.4 340.1,158.7 340.9,160 341.7,161.2 342.5,162.5 343.2,163.8 344,165.1 344.8,166.4 345.5,167.7 346.2,169 346.9,170.3 347.6,171.6 348.3,172.9 349,174.3 349.7,175.6 350.3,177 351,178.3 351.6,179.7 352.2,181 352.8,182.4 353.4,183.8 354,185.2 354.6,186.5 355.2,187.9 355.7,189.3 356.3,190.7 356.8,192.1 357.3,193.5 357.8,195 358.3,196.4 358.8,197.8 359.3,199.2 359.8,200.6 360.3,202.1 360.7,203.5 361.2,204.9 361.6,206.4 362,207.8 362.5,209.3 362.9,210.7 363.3,212.2 363.7,213.6 364.1,215.1 364.5,216.5 364.9,218 365.2,219.5 365.6,220.9 366,222.4 366.3,223.9 366.7,225.3 367.1,226.8 367.4,228.3 367.7,229.7 368.1,231.2 368.4,232.7 368.8,234.2 369.1,235.6 369.4,237.1 369.8,238.6 370.1,240.1 370.4,241.5 370.7,243 371,244.5 371.3,246 371.7,247.4 372,248.9 372.3,250.4 372.6,251.9 372.9,253.3 373.2,254.8 373.5,256.3 373.8,257.8 374.1,259.3 374.4,260.7 374.7,262.2 375,263.7 375.3,265.2 375.5,266.7 375.8,268.1 376.1,269.6 376.4,271.1 376.7,272.6 376.9,274.1 377.2,275.5 377.5,277 377.8,278.5 378,280 378.3,281.5 378.6,282.9 378.8,284.4 379.1,285.9 379.4,287.4 379.6,288.9 379.9,290.4 380.1,291.8 380.4,293.3 380.6,294.8 380.9,296.3 381.2,297.8 381.4,299.3 381.7,300.7 381.9,302.2 382.1,303.7 382.4,305.2 382.6,306.7 382.9,308.2 383.1,309.6 383.4,311.1 383.6,312.6 383.8,314.1 384.1,315.6 384.3,317.1 384.6,318.6 384.8,320 385,321.5 385.3,323 385.5,324.5 385.7,326 386,327.5 386.2,329 386.4,330.4 386.6,331.9 386.9,333.4 387.1,334.9 387.3,336.4 387.5,337.9 387.8,339.4 388,340.8 388.2,342.3 388.4,343.8 388.7,345.3 388.9,346.8 389.1,348.3 389.3,349.8 389.6,351.2 389.8,352.7 390,354.2 390.2,355.7 390.4,357.2 390.7,358.7 390.9,360.2 391.1,361.7 391.3,363.1 391.5,364.6 391.8,366.1 392,367.6 392.2,369.1 392.4,370.6 392.6,372.1 392.8,373.6 393.1,375 393.3,376.5 393.5,378 393.7,379.5 393.9,381 394.2,382.5 394.4,384 394.6,385.5 394.8,386.9 395,388.4 395.3,389.9 395.5,391.4 395.7,392.9 395.9,394.4 396.1,395.9 396.4,397.4 396.6,398.8 396.8,400.3 397,401.8 397.3,403.3 397.5,404.8 397.7,406.3 397.9,407.8 398.2,409.3 398.4,410.7 398.6,412.2 398.8,413.7 399.1,415.2 399.3,416.7 399.5,418.2 399.8,419.7 400,421.1 400.2,422.6 400.5,424.1 400.7,425.6 400.9,427.1 401.1,428.6 401.4,430.1 401.6,431.6 401.8,433 402.1,434.5 402.3,436 402.5,437.5 402.7,439 403,440.5 403.2,442 403.4,443.5 403.6,444.9 403.9,446.4 404.1,447.9 404.3,449.4 404.5,450.9 404.7,452.4 404.9,453.9 405.2,455.4 405.4,456.8 405.6,458.3 405.8,459.8 406,461.3 406.2,462.8 406.4,464.3 406.6,465.8 406.8,467.3 407,468.8 407.2,470.2 407.4,471.7 407.6,473.2 407.8,474.7 408,476.2 408.2,477.7 408.4,479.2 408.5,480.7 408.7,482.2 408.9,483.7 409.1,485.2 409.3,486.7 409.4,488.1 409.6,489.6 409.7,491.1 409.9,492.6 410.1,494.1 410.2,495.6 410.4,497.1 410.5,498.6 410.7,500.1 410.8,501.6 410.9,503.1 411.1,504.6 411.2,506.1 411.3,507.6 411.5,509.1 411.6,510.6 411.7,512.1 411.8,513.6 411.9,515.1 412,516.6 412.1,518.1 412.2,519.6 412.3,521.1 412.4,522.6 412.5,524.1 412.6,525.6 412.6,527.1 412.7,528.6 412.8,530.1 412.8,531.6 412.9,533.1 412.9,534.6 413,536.1 413,537.6 413.1,539.1 413.1,540.6 413.1,542.1 413.1,543.6 413.2,545.1 413.2,546.7 413.2,548.2 413.2,549.7 413.2,551.2 413.2,552.7 413.1,554.2 413.1,555.7 413.1,557.2 413.1,558.7 413,560.3 413,561.8 412.9,563.3 412.9,564.8 412.8,566.3 412.7,567.8 412.7,569.3 412.6,570.9 412.5,572.4 412.4,573.9 412.7,572.5 412.9,571.1 413.2,569.7 413.4,568.3 413.6,566.9 413.8,565.4 414,564 414.2,562.6 414.3,561.1 414.5,559.6 414.6,558.2 414.7,556.7 414.8,555.2 414.9,553.8 415,552.3 415.1,550.8 415.2,549.3 415.2,547.8 415.3,546.3 415.3,544.8 415.4,543.2 415.4,541.7 415.4,540.2 415.4,538.7 415.5,537.1 415.5,535.6 415.5,534.1 415.5,532.5 415.5,531 415.4,529.4 415.4,527.9 415.4,526.3 415.4,524.8 415.4,523.2 415.4,521.7 415.3,520.1 415.3,518.5 415.3,517 415.3,515.4 415.3,513.9 415.3,512.3 415.2,510.7 415.2,509.2 415.2,507.6 415.2,506.1 415.2,504.5 415.2,502.9 415.2,501.4 415.2,499.8 415.3,498.3 415.3,496.7 415.3,495.2 415.4,493.6 415.4,492.1 415.5,490.5 415.5,489 415.6,487.4 415.7,485.9 415.8,484.4 415.9,482.8 416,481.3 416.1,479.8 416.2,478.3 416.4,476.8 416.6,475.2 416.7,473.7 416.9,472.2 417.1,470.7 417.3,469.3 417.6,467.8 417.8,466.3 418.1,464.8 418.4,463.3 418.6,461.9 419,460.4 419.3,459 419.6,457.5 420,456.1 420.4,454.7 420.8,453.3 421.2,451.9 421.7,450.5 422.1,449.1 422.6,447.7 423.1,446.3 423.7,444.9 424.2,443.6 424.8,442.2 425.4,440.9 426,439.5 426.7,438.2 427.4,436.9 428.1,435.6 428.8,434.3 429.5,433 430.3,431.7 431.1,430.5 432,429.2 432.8,428 433.7,426.8 434.6,425.6 435.6,424.4 436.5,423.2 437.5,422 438.5,420.9 439.6,419.7 440.6,418.6 441.7,417.5 442.8,416.5 443.9,415.4 445.1,414.4 446.2,413.4 447.4,412.4 448.6,411.4 449.9,410.5 451.1,409.5 452.4,408.6 453.7,407.8 455,406.9 456.3,406.1 457.6,405.3 459,404.6 460.4,403.8 461.8,403.1 463.2,402.5 464.6,401.8 466,401.2 467.5,400.6 469,400.1 470.4,399.6 471.9,399.1 473.5,398.6 475,398.2 476.5,397.9 478.1,397.5 479.6,397.2 481.2,397 482.8,396.8 484.3,396.6 485.9,396.5 487.4,396.4 489,396.4 490.5,396.4 492,396.5 493.5,396.7 494.9,396.9 496.4,397.1 497.8,397.5 499.1,397.9 500.5,398.3 501.8,398.8 503,399.4 504.2,400.1 505.4,400.8 506.5,401.6 507.5,402.5 508.5,403.4 509.4,404.4 510.3,405.5 511.1,406.7 511.9,407.8 512.6,409.1 513.2,410.4 513.8,411.7 514.4,413.1 514.8,414.5 515.2,416 515.6,417.5 515.9,419.1 516.2,420.6 516.4,422.2 516.6,423.8 516.8,425.4 516.9,427 517,428.6 517.1,430.2 517.2,431.8 517.3,433.4 517.4,435 517.5,436.6 517.6,438.1 517.7,439.6 517.8,441 518,442.5 518.1,443.9 518.3,445.2" stroke="#0000ea" stroke-width="3.5" fill="none" stroke-linejoin="round" stroke-linecap="round"/>
<path d="M203.4,18.4 204.8,18.8 206.3,19.1 207.7,19.5 209.2,19.9 210.6,20.3 212,20.7 213.5,21.2 214.9,21.6 216.4,22 217.8,22.5 219.2,22.9 220.7,23.4 222.1,23.8 223.5,24.3 225,24.8 226.4,25.3 227.8,25.8 229.2,26.3 230.7,26.8 232.1,27.3 233.5,27.9 234.9,28.4 236.3,28.9 237.7,29.5 239.1,30.1 240.5,30.6 241.9,31.2 243.3,31.8 244.7,32.4 246.1,33 247.5,33.6 248.9,34.2 250.3,34.9 251.6,35.5 253,36.2 254.4,36.8 255.8,37.5 257.1,38.2 258.5,38.8 259.8,39.5 261.2,40.2 262.5,40.9 263.8,41.6 265.2,42.4 266.5,43.1 267.8,43.8 269.1,44.6 270.4,45.3 271.7,46.1 273,46.9 274.3,47.7 275.6,48.5 276.9,49.3 278.2,50.1 279.4,50.9 280.7,51.7 282,52.5 283.2,53.4 284.5,54.2 285.7,55.1 286.9,56 288.1,56.8 289.3,57.7 290.6,58.6 291.8,59.5 292.9,60.4 294.1,61.4 295.3,62.3 296.5,63.2 297.6,64.2 298.8,65.1 299.9,66.1 301.1,67.1 302.2,68.1 303.3,69.1 304.4,70.1 305.5,71.1 306.6,72.1 307.7,73.1 308.8,74.2 309.8,75.2 310.9,76.3 311.9,77.3 312.9,78.4 314,79.5 315,80.6 316,81.7 317,82.8 318,83.9 318.9,85 319.9,86.2 320.9,87.3 321.8,88.5 322.7,89.6 323.7,90.8 324.6,92 325.5,93.1 326.4,94.3 327.3,95.5 328.2,96.7 329,98 329.9,99.2 330.7,100.4 331.6,101.6 332.4,102.9 333.3,104.1 334.1,105.4 334.9,106.7 335.7,107.9 336.5,109.2 337.3,110.5 338,111.8 338.8,113.1 339.6,114.4 340.3,115.7 341.1,117 341.8,118.3 342.6,119.6 343.3,120.9 344,122.3 344.7,123.6 345.4,124.9 346.1,126.3 346.8,127.6 347.5,129 348.2,130.3 348.9,131.7 349.5,133 350.2,134.4 350.8,135.8 351.5,137.2 352.1,138.5 352.8,139.9 353.4,141.3 354,142.7 354.6,144.1 355.2,145.5 355.9,146.9 356.5,148.2 357.1,149.6 357.7,151 358.2,152.4 358.8,153.9 359.4,155.3 360,156.7 360.5,158.1 361.1,159.5 361.7,160.9 362.2,162.3 362.8,163.7 363.3,165.1 363.9,166.5 364.4,168 364.9,169.4 365.5,170.8 366,172.2 366.5,173.6 367,175 367.5,176.5 368.1,177.9 368.6,179.3 369.1,180.7 369.6,182.1 370,183.6 370.5,185 371,186.4 371.5,187.8 372,189.3 372.4,190.7 372.9,192.1 373.4,193.6 373.8,195 374.3,196.4 374.7,197.9 375.1,199.3 375.6,200.7 376,202.2 376.4,203.6 376.8,205.1 377.3,206.5 377.7,207.9 378.1,209.4 378.5,210.8 378.9,212.3 379.2,213.7 379.6,215.2 380,216.7 380.4,218.1 380.8,219.6 381.1,221 381.5,222.5 381.8,223.9 382.2,225.4 382.6,226.9 382.9,228.3 383.3,229.8 383.6,231.3 383.9,232.7 384.3,234.2 384.6,235.7 385,237.1 385.3,238.6 385.6,240.1 386,241.5 386.3,243 386.7,244.5 387,245.9 387.3,247.4 387.7,248.9 388,250.3 388.3,251.8 388.7,253.3 389,254.7 389.4,256.2 389.7,257.7 390.1,259.1 390.4,260.6 390.8,262.1 391.1,263.5 391.5,265 391.8,266.4 392.2,267.9 392.6,269.4 392.9,270.8 393.3,272.3 393.7,273.7 394.1,275.2 394.5,276.6 394.9,278.1 395.3,279.5 395.7,281 396.1,282.4 396.5,283.9 396.9,285.3 397.4,286.8 397.8,288.2 398.3,289.6 398.7,291.1 399.2,292.5 399.6,293.9 400.1,295.4 400.6,296.8 401.1,298.2 401.6,299.6 402.1,301 402.6,302.5 403.1,303.9 403.7,305.3 404.2,306.7 404.8,308.1 405.3,309.5 405.9,310.9 406.5,312.3 407.1,313.7 407.7,315 408.3,316.4 408.9,317.8 409.6,319.2 410.2,320.5 410.8,321.9 411.5,323.2 412.2,324.6 412.9,325.9 413.6,327.3 414.3,328.6 415,329.9 415.7,331.2 416.4,332.6 417.2,333.9 417.9,335.2 418.7,336.4 419.5,337.7 420.3,339 421.1,340.3 421.9,341.5 422.7,342.8 423.6,344 424.4,345.3 425.3,346.5 426.1,347.7 427,348.9 427.9,350.1 428.8,351.3 429.7,352.5 430.7,353.6 431.6,354.8 432.5,356 433.5,357.1 434.5,358.2 435.5,359.3 436.5,360.4 437.5,361.5 438.5,362.6 439.6,363.7 440.6,364.8 441.7,365.8 442.8,366.8 443.8,367.9 444.9,368.9 446.1,369.9 447.2,370.9 448.3,371.8 449.5,372.8 450.7,373.8 451.8,374.7 453,375.6 454.2,376.5 455.4,377.4 456.7,378.3 457.9,379.1 459.1,380 460.4,380.8 461.7,381.6 462.9,382.4 464.2,383.2 465.5,384 466.8,384.7 468.2,385.5 469.5,386.2 470.8,386.9 472.2,387.5 473.5,388.2 474.9,388.8 476.3,389.5 477.6,390.1 479,390.7 480.4,391.2 481.8,391.8 483.2,392.3 484.7,392.8 486.1,393.3 487.5,393.8 489,394.2 490.4,394.6 491.9,395.1 493.3,395.4 494.8,395.8 496.3,396.1 497.8,396.5 499.3,396.8 500.7,397 502.2,397.3 503.7,397.5 505.3,397.7 506.8,397.9 508.3,398.1 509.8,398.2 511.3,398.3 512.9,398.4 514.4,398.5 516,398.5 517.5,398.5" stroke="#006e00" stroke-width="3.5" fill="none" stroke-linejoin="round" stroke-linecap="round"/>
<path d="M203.4,18.4 204.9,18.5 206.3,18.6 207.8,18.8 209.3,18.9 210.8,19.1 212.2,19.2 213.7,19.4 215.2,19.6 216.7,19.8 218.2,20 219.7,20.2 221.2,20.4 222.6,20.6 224.1,20.8 225.6,21.1 227.1,21.3 228.6,21.6 230.1,21.9 231.6,22.2 233.1,22.5 234.6,22.8 236,23.1 237.5,23.4 239,23.7 240.5,24.1 242,24.4 243.5,24.8 244.9,25.2 246.4,25.5 247.9,25.9 249.4,26.3 250.9,26.7 252.3,27.2 253.8,27.6 255.3,28 256.7,28.5 258.2,28.9 259.6,29.4 261.1,29.9 262.5,30.4 264,30.9 265.4,31.4 266.9,31.9 268.3,32.4 269.7,33 271.2,33.5 272.6,34.1 274,34.7 275.4,35.2 276.8,35.8 278.2,36.4 279.6,37 281,37.7 282.4,38.3 283.8,38.9 285.2,39.6 286.6,40.2 287.9,40.9 289.3,41.6 290.6,42.3 292,43 293.3,43.7 294.7,44.4 296,45.1 297.3,45.9 298.6,46.6 299.9,47.4 301.2,48.2 302.5,48.9 303.8,49.7 305.1,50.5 306.3,51.3 307.6,52.2 308.8,53 310.1,53.8 311.3,54.7 312.5,55.6 313.7,56.4 314.9,57.3 316.1,58.2 317.3,59.1 318.5,60.1 319.7,61 320.8,61.9 322,62.9 323.1,63.8 324.2,64.8 325.3,65.8 326.4,66.8 327.5,67.8 328.6,68.8 329.7,69.8 330.7,70.8 331.8,71.9 332.8,72.9 333.9,74 334.9,75.1 335.9,76.1 336.9,77.2 337.9,78.3 338.9,79.4 339.8,80.6 340.8,81.7 341.8,82.8 342.7,84 343.6,85.1 344.6,86.3 345.5,87.4 346.4,88.6 347.3,89.8 348.2,91 349.1,92.2 349.9,93.4 350.8,94.6 351.6,95.8 352.5,97.1 353.3,98.3 354.2,99.5 355,100.8 355.8,102 356.6,103.3 357.4,104.6 358.2,105.8 359,107.1 359.7,108.4 360.5,109.7 361.3,111 362,112.3 362.7,113.6 363.5,114.9 364.2,116.2 364.9,117.6 365.7,118.9 366.4,120.2 367.1,121.6 367.8,122.9 368.4,124.2 369.1,125.6 369.8,126.9 370.5,128.3 371.1,129.7 371.8,131 372.4,132.4 373.1,133.8 373.7,135.1 374.3,136.5 375,137.9 375.6,139.3 376.2,140.7 376.8,142.1 377.4,143.5 378,144.9 378.6,146.3 379.2,147.7 379.8,149.1 380.3,150.5 380.9,151.9 381.5,153.3 382,154.7 382.6,156.1 383.1,157.5 383.7,158.9 384.2,160.3 384.8,161.7 385.3,163.2 385.8,164.6 386.4,166 386.9,167.4 387.4,168.8 387.9,170.3 388.4,171.7 388.9,173.1 389.4,174.5 389.9,176 390.4,177.4 390.9,178.8 391.4,180.3 391.9,181.7 392.4,183.1 392.9,184.5 393.4,186 393.9,187.4 394.3,188.8 394.8,190.3 395.3,191.7 395.8,193.1 396.3,194.6 396.7,196 397.2,197.4 397.7,198.9 398.1,200.3 398.6,201.8 399.1,203.2 399.5,204.6 400,206.1 400.5,207.5 400.9,208.9 401.4,210.4 401.9,211.8 402.3,213.2 402.8,214.7 403.3,216.1 403.7,217.5 404.2,219 404.7,220.4 405.2,221.8 405.6,223.3 406.1,224.7 406.6,226.1 407,227.6 407.5,229 408,230.4 408.5,231.9 409,233.3 409.4,234.7 409.9,236.1 410.4,237.6 410.9,239 411.4,240.4 411.9,241.8 412.4,243.2 412.9,244.7 413.4,246.1 413.9,247.5 414.4,248.9 414.9,250.3 415.4,251.7 415.9,253.1 416.5,254.6 417,256 417.5,257.4 418.1,258.8 418.6,260.2 419.1,261.6 419.7,263 420.2,264.4 420.8,265.8 421.3,267.2 421.9,268.6 422.5,269.9 423.1,271.3 423.6,272.7 424.2,274.1 424.8,275.5 425.4,276.9 426,278.2 426.6,279.6 427.2,281 427.9,282.4 428.5,283.7 429.1,285.1 429.7,286.5 430.4,287.8 431,289.2 431.7,290.5 432.4,291.9 433,293.2 433.7,294.6 434.4,295.9 435.1,297.3 435.7,298.6 436.4,299.9 437.1,301.3 437.8,302.6 438.6,303.9 439.3,305.2 440,306.6 440.7,307.9 441.5,309.2 442.2,310.5 443,311.8 443.7,313.1 444.5,314.4 445.2,315.7 446,317 446.8,318.3 447.6,319.6 448.4,320.8 449.2,322.1 450,323.4 450.8,324.7 451.6,325.9 452.4,327.2 453.2,328.5 454.1,329.7 454.9,331 455.8,332.2 456.6,333.4 457.5,334.7 458.3,335.9 459.2,337.1 460.1,338.4 460.9,339.6 461.8,340.8 462.7,342 463.6,343.2 464.5,344.4 465.4,345.6 466.4,346.8 467.3,348 468.2,349.2 469.1,350.4 470.1,351.5 471,352.7 472,353.9 472.9,355 473.9,356.2 474.9,357.3 475.8,358.5 476.8,359.6 477.8,360.8 478.8,361.9 479.8,363 480.8,364.1 481.8,365.3 482.9,366.4 483.9,367.5 484.9,368.6 486,369.7 487,370.7 488,371.8 489.1,372.9 490.2,374 491.2,375 492.3,376.1 493.4,377.1 494.5,378.2 495.6,379.2 496.7,380.3 497.8,381.3 498.9,382.3 500,383.3 501.1,384.3 502.3,385.3 503.4,386.3 504.5,387.3 505.7,388.3 506.8,389.3 508,390.3 509.2,391.2 510.3,392.2 511.5,393.1 512.7,394.1 513.9,395 515.1,396 516.3,396.9 517.5,397.8" stroke="#006e00" stroke-width="3.5" fill="none" stroke-linejoin="round" stroke-linecap="round"/>
<path d="M364.4,346.5L370.9,396.5" stroke="#e80505" stroke-width="2.9" stroke-dasharray="5 6.1" fill="none"/><path d="M374.9,416.8L367.3,404L378.9,402.6Z" fill="#e80505"/>
<path d="M432.9,394.5L417,344.6" stroke="#e80505" stroke-width="2.9" stroke-dasharray="6.3 5.46" fill="none"/><path d="M413.2,329.3L410.6,344.6L422.5,340.6Z" fill="#e80505"/>
<path d="M821.2,386.8 822.1,388 823,389.2 823.9,390.5 824.8,391.7 825.6,392.9 826.5,394.1 827.4,395.4 828.3,396.6 829.2,397.9 830,399.1 830.9,400.3 831.8,401.6 832.7,402.9 833.5,404.1 834.4,405.4 835.3,406.6 836.1,407.9 837,409.2 837.8,410.4 838.7,411.7 839.5,413 840.3,414.3 841.2,415.6 842,416.9 842.8,418.2 843.6,419.5 844.4,420.8 845.2,422.1 846,423.4 846.8,424.7 847.6,426 848.4,427.3 849.2,428.7 849.9,430 850.7,431.3 851.5,432.6 852.2,434 852.9,435.3 853.7,436.7 854.4,438 855.1,439.4 855.8,440.7 856.5,442.1 857.2,443.5 857.9,444.8 858.6,446.2 859.2,447.6 859.9,448.9 860.5,450.3 861.1,451.7 861.8,453.1 862.4,454.5 863,455.9 863.6,457.3 864.2,458.7 864.7,460.1 865.3,461.5 865.8,462.9 866.4,464.3 866.9,465.8 867.4,467.2 867.9,468.6 868.4,470 868.9,471.5 869.3,472.9 869.8,474.4 870.2,475.8 870.6,477.3 871,478.7 871.4,480.2 871.8,481.7 872.2,483.1 872.5,484.6 872.9,486.1 873.2,487.6 873.5,489 873.8,490.5 874.1,492 874.3,493.5 874.6,495 874.8,496.5 875,498 875.2,499.5 875.4,501.1 875.6,502.6 875.7,504.1 875.9,505.6 876,507.2 876.1,508.7 876.2,510.2 876.2,511.8 876.3,513.3 876.3,514.9 876.3,516.4 876.3,518 877.8,519.3 879.2,520.2 880.4,520.6 881.5,520.6 882.5,520.2 883.3,519.5 884.1,518.6 884.7,517.4 885.2,516.1 885.7,514.6 886.1,512.9 886.5,511.2 886.8,509.4 887.1,507.5 887.4,505.6 887.8,503.8 888.1,502 888.6,500.2 889.1,498.5 889.7,497 890.4,495.7 891.2,494.5 892.2,493.5 893.3,494.6 894.4,495.8 895.5,497.1 896.5,498.3 897.4,499.6 898.3,501 899.2,502.3 900,503.7 900.7,505.1 901.4,506.6 902,508.1 902.6,509.6 903.1,511.1 903.6,512.6 903.9,514.2 904.3,515.8 904.5,517.4 904.6,519 904.7,520.7 904.7,522.3 904.7,524 904.5,525.6 904.3,527.3 903.9,529 903.5,530.7 904.6,529.7 905.5,528.6 906.3,527.4 907.1,526.2 907.7,524.9 908.3,523.6 908.8,522.3 909.2,520.9 909.5,519.5 909.8,518 910,516.5 910.2,515 910.4,513.5 910.6,512 910.7,510.5 910.8,508.9 910.9,507.4 911,505.8 911.1,504.3 911.3,502.8 911.4,501.3 911.6,499.7 911.8,498.2 911.9,496.7 912.1,495.2 912.3,493.7 912.6,492.2 912.8,490.7 913,489.2 913.2,487.8 913.5,486.3 913.7,484.8 913.9,483.3 914.2,481.8 914.4,480.3 914.7,478.8 914.9,477.3 915.2,475.8 915.4,474.2 915.7,472.7 916,471.2 916.2,469.7 916.5,468.1 916.8,466.6 917,465.1 917.3,463.5 917.6,462 917.9,460.5 918.3,459 918.6,457.5 919,455.9 919.3,454.4 919.7,453 920.1,451.5 920.5,450 921,448.6 921.5,447.1 922,445.7 922.5,444.3 923,442.9 923.6,441.5 924.2,440.1 924.8,438.8 925.5,437.5 926.2,436.1 926.9,434.9 927.6,433.6 928.4,432.4 929.3,431.2 930.1,430 931.1,428.8 932,427.7 933,426.6 934,425.5 935.1,424.5 936.2,423.5 937.4,422.5 938.5,421.6 939.7,420.7 941,419.9 942.2,419.1 943.5,418.3 944.8,417.6 946.2,417 947.5,416.4 948.9,415.8 950.3,415.3 951.8,414.9 953.2,414.5 954.6,414.2 956.1,413.9 957.6,413.8 959.1,413.6 960.6,413.6 962.1,413.5 963.6,413.6 965.1,413.7 966.6,413.9 968.1,414.1 969.6,414.4 971.1,414.8 972.5,415.2 974,415.6 975.4,416.2 976.9,416.7 978.3,417.4 979.7,418 981,418.8 982.4,419.6 983.7,420.4 985.2,420.3 986.7,420.2 988.3,420.2 989.8,420.1 991.3,420.2 992.8,420.2 994.3,420.3 995.8,420.3 997.4,420.5 998.9,420.6 1000.4,420.7 1001.9,420.9 1003.4,421.1 1004.9,421.3 1006.4,421.5 1007.9,421.7 1009.4,421.9 1010.9,422.2 1012.4,422.4 1013.9,422.7 1015.4,422.9 1016.9,423.1 1018.4,423.4 1019.9,423.6 1021.4,423.8 1022.9,424.1 1024.4,424.3 1025.9,424.5 1027.4,424.7 1028.9,424.9 1030.4,425.1 1031.9,425.2 1033.4,425.4 1034.9,425.6 1036.5,425.8 1038,425.9 1039.5,426.1 1041,426.2 1042.5,426.4 1044,426.5 1045.5,426.7 1047,426.9 1048.6,427 1050.1,427.2 1051.6,427.3 1053.1,427.5 1054.6,427.6 1056.1,427.7 1057.7,427.7 1059.2,427.8 1060.7,427.8 1062.2,427.7 1063.7,427.6 1065.2,427.5 1066.7,427.3 1068.2,427.1 1069.7,426.9 1071.2,426.6 1072.7,426.4 1074.2,426.1 1075.7,425.8 1077.2,425.4 1078.6,425.1 1080.1,424.8 1081.6,424.5 1083.1,424.2 1084.6,423.9 1086.1,423.6 1087.6,423.3 1089.1,423.1 1090.6,422.9 1092.1,422.7 1093.6,422.5 1095.1,422.4 1096.6,422.4 1098.1,422.3 1099.6,422.4 1101.1,422.4 1102.7,422.5 1104.2,422.6 1105.7,422.7 1107.2,422.9 1108.7,423 1110.3,423.1 1111.8,423.2 1113.3,423.3 1114.8,423.4 1116.3,423.4 1117.9,423.4 1119.4,423.4 1120.9,423.3 1122.4,423.1 1123.8,422.9 1125.3,422.5 1126.8,422.1 1128.2,421.6 1129.6,421.1 1130.9,420.4 1132.3,419.5 1133.6,418.6" stroke="#000000" stroke-width="3.5" fill="none" stroke-linejoin="round" stroke-linecap="round"/>
<path d="M821.2,386.8 822.7,386.8 824.2,386.7 825.7,386.7 827.2,386.7 828.7,386.8 830.2,386.8 831.7,386.9 833.3,387 834.8,387.1 836.3,387.3 837.8,387.4 839.3,387.6 840.8,387.8 842.3,388 843.8,388.3 845.4,388.5 846.9,388.8 848.4,389.1 849.9,389.4 851.4,389.7 852.9,390.1 854.4,390.5 855.9,390.8 857.3,391.2 858.8,391.7 860.3,392.1 861.8,392.6 863.2,393.1 864.7,393.6 866.1,394.1 867.6,394.6 869,395.2 870.5,395.7 871.9,396.3 873.3,396.9 874.7,397.5 876.1,398.2 877.5,398.8 878.9,399.5 880.3,400.2 881.6,400.9 883,401.6 884.3,402.3 885.7,403.1 887,403.9 888.3,404.6 889.6,405.4 890.9,406.3 892.2,407.1 893.4,407.9 894.7,408.8 895.9,409.7 897.2,410.6 898.4,411.5 899.6,412.4 900.7,413.4 901.9,414.3 903.1,415.3 904.2,416.3 905.3,417.3 906.4,418.3 907.5,419.3 908.6,420.3 909.6,421.4 910.7,422.5 911.7,423.5 912.7,424.6 913.7,425.7 914.6,426.9 915.6,428 916.5,429.2 917.4,430.3 918.3,431.5 919.2,432.7 920,433.9 920.8,435.1 921.6,436.3 922.4,437.6 923.2,438.8 923.9,440.1 924.6,441.3 925.3,442.6 926,443.9 926.7,445.2 927.3,446.6 927.9,447.9 928.5,449.2 929.1,450.6 929.7,451.9 930.3,453.3 930.8,454.7 931.3,456.1 931.8,457.5 932.3,458.9 932.8,460.3 933.2,461.7 933.7,463.1 934.1,464.6 934.5,466 934.9,467.5 935.3,468.9 935.6,470.4 936,471.9 936.3,473.3 936.6,474.8 937,476.3 937.3,477.8 937.5,479.3 937.8,480.8 938.1,482.3 938.3,483.8 938.6,485.4 938.8,486.9 939,488.4 939.2,490 939.4,491.5 939.6,493 939.8,494.6 940,496.1 940.1,497.7 940.3,499.2 940.4,500.8 940.6,502.3 940.7,503.9 940.8,505.5 941,507 941.1,508.6 941.2,510.2 941.3,511.7 941.4,513.3 941.4,514.9 941.5,516.4 941.6,518 941.7,519.5 941.7,521.1 941.8,522.7 941.8,524.2 941.9,525.8 941.9,527.4 942,528.9 942,530.5 942.1,532 942.1,533.6 942.2,535.1 942.2,536.7 942.2,538.2 942.3,539.8 942.3,541.3 942.3,542.8 942.4,544.3 942.4,545.9 942.4,547.4 942.5,548.9 942.5,550.4 942.5,551.9 942.6,553.4 942.6,554.9 942.6,556.4 942.7,557.9 942.7,559.4 942.8,560.8 942.8,562.3 942.9,563.7 942.9,565.2 943,566.6 943.1,568.1 943.1,569.5 943.2,570.9 943.3,572.3 943.4,570.8 943.5,569.4 943.7,567.9 943.8,566.4 943.9,564.9 944,563.4 944.1,562 944.2,560.5 944.3,559 944.3,557.5 944.4,556 944.5,554.5 944.6,553 944.7,551.5 944.7,550 944.8,548.5 944.9,547 945,545.4 945,543.9 945.1,542.4 945.2,540.9 945.2,539.4 945.3,537.9 945.4,536.4 945.4,534.8 945.5,533.3 945.6,531.8 945.7,530.3 945.7,528.8 945.8,527.2 945.9,525.7 946,524.2 946.1,522.7 946.1,521.1 946.2,519.6 946.3,518.1 946.4,516.6 946.5,515.1 946.6,513.5 946.7,512 946.8,510.5 947,509 947.1,507.5 947.2,506 947.3,504.4 947.5,502.9 947.6,501.4 947.8,499.9 947.9,498.4 948.1,496.9 948.2,495.4 948.4,493.9 948.6,492.4 948.8,490.9 949,489.4 949.2,487.9 949.4,486.4 949.6,484.9 949.9,483.4 950.1,481.9 950.3,480.4 950.6,479 950.9,477.5 951.1,476 951.4,474.6 951.7,473.1 952,471.6 952.4,470.2 952.7,468.7 953,467.3 953.4,465.8 953.7,464.4 954.1,462.9 954.5,461.5 954.9,460.1 955.3,458.6 955.8,457.2 956.2,455.8 956.7,454.4 957.1,453 957.6,451.6 958.1,450.1 958.6,448.7 959.1,447.3 959.6,445.9 960.1,444.6 960.6,443.2 961.2,441.8 961.7,440.4 962.2,439 962.8,437.6 963.3,436.2 963.8,434.8 964.3,433.4 964.9,432 965.4,430.6 965.9,429.1 966.4,427.7 966.9,426.3 967.4,424.9 967.9,423.5 968.4,422 968.9,420.6 969.4,419.1 969.8,417.7 970.2,416.2 970.7,414.7 971.1,413.3 971.5,411.8 971.9,410.3 972.2,408.8 972.6,407.3 972.9,405.7 973.2,404.2 973.5,402.6 973.7,401.1 974,399.5 974.2,398 974.4,396.4 974.7,394.8 974.9,393.3 975.1,391.7 975.4,390.2 975.6,388.6 975.9,387.1 976.1,385.5 976.4,384 976.7,382.5 977,381.1 977.4,379.6 977.7,378.2 978.2,376.8 978.6,375.4 979.1,374 979.6,372.7 980.1,371.4 980.7,370.1 981.4,368.9 982.1,367.9 982.8,367.2 983.5,367 984.2,367.4 984.9,368.2 985.7,369.3 986.4,370.6 987.2,372 988,373.4 988.8,374.7 989.6,376.1 990.4,377.4 991.2,378.8 992.1,380.1 993,381.4 993.9,382.7 994.8,383.9 995.7,385.2 996.6,386.4 997.6,387.6 998.6,388.8 999.5,389.9 1000.6,391.1 1001.6,392.2 1002.6,393.3 1003.7,394.4 1004.7,395.4 1005.8,396.4 1007,397.4 1008.1,398.3 1009.2,399.3 1010.4,400.2 1011.6,401 1012.8,401.9 1014,402.7 1015.2,403.5 1016.5,404.2 1017.7,404.9 1019,405.6 1020.3,406.3 1021.6,406.9 1023,407.5 1024.3,408.1 1025.7,408.6 1027.1,409.2 1028.4,409.7 1029.8,410.2 1031.3,410.6 1032.7,411.1 1034.1,411.5 1035.5,412 1037,412.4 1038.4,412.8 1039.9,413.2 1041.4,413.6 1042.9,413.9 1044.3,414.3 1045.8,414.7 1047.3,415 1048.8,415.4 1050.3,415.7 1051.8,416.1 1053.3,416.4 1054.8,416.8 1056.3,417.2 1057.8,417.5 1059.4,417.9 1060.9,418.3 1062.4,418.6 1063.9,419 1065.4,419.4 1066.9,419.8 1068.4,420.3 1069.9,420.7 1071.3,421.1 1072.8,421.6 1074.3,422.1 1075.7,422.6 1077.2,423.1 1078.6,423.7 1080,424.2 1081.4,424.8 1082.8,425.4 1084.2,426.1 1085.5,426.7 1086.8,427.4 1088.1,428.1 1089.4,428.9 1090.6,429.7 1091.8,430.5 1093,431.3 1094.2,432.2 1095.3,433.1 1096.3,434.1 1097.4,435.1 1098.4,436.1 1099.3,437.1 1100.2,438.2 1101.1,439.4 1102,440.6 1102.8,441.8 1103.5,443 1104.3,444.3 1105,445.6 1105.6,446.9 1106.3,448.3 1106.9,449.6 1107.4,451 1108,452.5 1108.5,453.9 1109,455.3 1109.5,456.8 1110,458.3 1110.4,459.8 1110.8,461.3 1111.2,462.8 1111.6,464.3 1112,465.8 1112.3,467.3 1112.6,468.8 1113,470.3 1113.3,471.8 1113.6,473.4 1113.9,474.9 1114.2,476.4 1114.4,477.9 1114.7,479.4 1114.9,480.9 1115.2,482.4 1115.4,483.9 1115.7,485.3 1115.9,486.8 1116.1,488.3 1116.3,489.8 1116.5,491.3 1116.7,492.8 1116.9,494.3 1117,495.7 1117.2,497.2 1117.4,498.7 1117.5,500.2 1117.7,501.7 1117.8,503.2 1117.9,504.6 1118.1,506.1 1118.2,507.6 1118.3,509.1 1118.4,510.6 1118.5,512.1 1118.6,513.6 1118.7,515 1118.8,516.5 1118.9,518 1119,519.5 1119.1,521 1119.2,522.5 1119.3,524 1119.4,525.5 1119.4,527 1119.5,528.6 1119.6,530.1 1119.6,531.6 1119.7,533.1 1119.8,534.6 1119.8,536.1 1119.9,537.6 1119.9,539.1 1120,540.6 1120,542.2 1120.1,543.7 1120.1,545.2 1120.2,546.7 1120.2,548.2 1120.2,549.7 1120.3,551.3 1120.3,552.8 1120.3,554.3 1120.4,555.8 1120.4,557.3 1120.4,558.8 1120.4,560.4 1120.4,561.9 1120.5,563.4 1120.5,564.9 1120.5,566.4 1120.5,567.9 1120.5,569.4 1120.5,570.9 1120.5,572.4 1120.6,573.9 1120.6,575.4 1120.6,576.9 1120.6,578.4 1120.6,579.9 1120.6,581.4 1120.6,582.9 1120.6,584.4 1120.6,582.9 1120.7,581.4 1120.7,579.9 1120.8,578.3 1120.8,576.8 1120.8,575.3 1120.9,573.8 1120.9,572.3 1121,570.8 1121,569.2 1121.1,567.7 1121.1,566.2 1121.2,564.7 1121.2,563.2 1121.3,561.7 1121.4,560.1 1121.4,558.6 1121.5,557.1 1121.6,555.6 1121.6,554.1 1121.7,552.6 1121.8,551 1121.8,549.5 1121.9,548 1122,546.5 1122.1,545 1122.2,543.5 1122.2,541.9 1122.3,540.4 1122.4,538.9 1122.5,537.4 1122.6,535.9 1122.7,534.4 1122.8,532.8 1122.9,531.3 1123,529.8 1123.1,528.3 1123.2,526.8 1123.3,525.3 1123.4,523.8 1123.5,522.2 1123.6,520.7 1123.7,519.2 1123.8,517.7 1124,516.2 1124.1,514.7 1124.2,513.2 1124.3,511.6 1124.5,510.1 1124.6,508.6 1124.7,507.1 1124.8,505.6 1125,504.1 1125.1,502.6 1125.3,501.1 1125.4,499.6 1125.6,498 1125.7,496.5 1125.8,495 1126,493.5 1126.2,492 1126.3,490.5 1126.5,489 1126.6,487.5 1126.8,486 1127,484.5 1127.1,482.9 1127.3,481.4 1127.5,479.9 1127.7,478.4 1127.8,476.9 1128,475.4 1128.2,473.9 1128.4,472.4 1128.6,470.9 1128.8,469.4 1129,467.9 1129.2,466.4 1129.4,464.9 1129.6,463.4 1129.8,461.9 1130,460.4 1130.2,458.9 1130.4,457.4 1130.6,455.8 1130.8,454.3 1131,452.8 1131.3,451.3 1131.5,449.8 1131.7,448.3 1132,446.8 1132.2,445.3 1132.4,443.8 1132.7,442.3 1132.9,440.9 1133.2,439.4 1133.4,437.9 1133.7,436.4 1133.9,434.9 1134.2,433.4 1134.4,431.9 1134.7,430.4 1135,428.9 1135.2,427.4 1135.5,425.9" stroke="#000000" stroke-width="3.5" fill="none" stroke-linejoin="round" stroke-linecap="round"/>
<path d="M821.7,268.4 822.4,269.7 823.1,271.1 823.8,272.4 824.5,273.7 825.2,275.1 825.9,276.4 826.6,277.7 827.3,279.1 828,280.4 828.7,281.7 829.5,283.1 830.2,284.4 830.9,285.7 831.6,287 832.4,288.3 833.1,289.7 833.8,291 834.6,292.3 835.3,293.6 836.1,294.9 836.8,296.2 837.5,297.6 838.3,298.9 839,300.2 839.8,301.5 840.5,302.8 841.3,304.1 842,305.4 842.8,306.8 843.5,308.1 844.3,309.4 845,310.7 845.8,312 846.5,313.3 847.3,314.6 848,315.9 848.8,317.3 849.5,318.6 850.3,319.9 851,321.2 851.8,322.5 852.5,323.8 853.3,325.1 854,326.4 854.8,327.8 855.5,329.1 856.3,330.4 857,331.7 857.7,333 858.5,334.4 859.2,335.7 860,337 860.7,338.3 861.4,339.6 862.1,341 862.9,342.3 863.6,343.6 864.3,345 865,346.3 865.7,347.6 866.4,348.9 867.2,350.3 867.9,351.6 868.6,353 869.3,354.3 869.9,355.6 870.6,357 871.3,358.3 872,359.7 872.7,361 873.3,362.4 874,363.7 874.7,365.1 875.3,366.4 876,367.8 876.7,369.2 877.3,370.5 877.9,371.9 878.6,373.2 879.2,374.6 879.9,376 880.5,377.4 881.1,378.7 881.7,380.1 882.3,381.5 883,382.9 883.6,384.2 884.2,385.6 884.8,387 885.4,388.4 886,389.8 886.6,391.2 887.2,392.5 887.7,393.9 888.3,395.3 888.9,396.7 889.5,398.1 890,399.5 890.6,400.9 891.2,402.3 891.7,403.7 892.3,405.1 892.8,406.5 893.4,407.9 893.9,409.3 894.5,410.8 895,412.2 895.6,413.6 896.1,415 896.6,416.4 897.1,417.8 897.7,419.2 898.2,420.6 898.7,422.1 899.2,423.5 899.7,424.9 900.2,426.3 900.8,427.8 901.3,429.2 901.8,430.6 902.3,432 902.8,433.5 903.2,434.9 903.7,436.3 904.2,437.7 904.7,439.2 905.2,440.6 905.7,442 906.1,443.5 906.6,444.9 907.1,446.4 907.6,447.8 908,449.2 908.5,450.7 908.9,452.1 909.4,453.6 909.9,455 910.3,456.4 910.8,457.9 911.2,459.3 911.7,460.8 912.1,462.2 912.5,463.7 913,465.1 913.4,466.6 913.9,468 914.3,469.4 914.7,470.9 915.2,472.3 915.6,473.8 916,475.2 916.4,476.7 916.8,478.1 917.3,479.6 917.7,481.1 918.1,482.5 918.5,484 918.9,485.4 919.3,486.9 919.7,488.3 920.1,489.8 920.5,491.2 921,492.7 921.4,494.1 921.8,495.6 922.1,497.1 922.5,498.5 922.9,500 923.3,501.4 923.7,502.9 924.1,504.3 924.5,505.8 925.3,504.4 926,503.1 926.8,501.7 927.4,500.3 928.1,499 928.7,497.6 929.3,496.2 929.9,494.8 930.4,493.5 930.9,492.1 931.4,490.7 931.9,489.3 932.3,487.9 932.7,486.5 933.1,485.1 933.5,483.7 933.9,482.3 934.2,480.8 934.5,479.4 934.9,477.9 935.2,476.5 935.5,475 935.8,473.5 936.1,472 936.3,470.4 936.6,468.9 936.9,467.3 937.2,465.8 937.5,464.2 937.8,462.6 938.1,461 938.4,459.4 938.7,457.8 939.1,456.2 939.5,454.6 939.9,453.1 940.4,451.5 940.9,450 941.4,448.5 942,447 942.6,445.6 943.3,444.2 944.1,442.8 944.9,441.5 945.8,440.2 946.7,439 947.7,437.8 948.7,436.8 949.8,435.8 950.9,434.9 952.1,434.2 953.3,433.7 954.6,433.2 955.8,432.9 957.1,432.7 958.5,432.7 959.8,432.7 961.2,432.8 962.5,433.1 963.9,433.4 965.3,433.8 966.8,434.2 968.2,434.7 969.6,435.3 971,435.9 972.4,436.6 973.8,437.2 975.2,437.9 976.6,438.7 978,439.4 979.3,440.1 980.7,440.9 982,441.6 983.3,442.4 984.7,443.2 986,444 987.3,444.8 988.6,445.6 989.9,446.4 991.1,447.2 992.4,448 993.7,448.8 995,449.7 996.2,450.5 997.5,451.3 998.7,452.2 1000,453 1001.2,453.8 1002.5,454.7 1003.7,455.5 1005,456.3 1006.2,457.2 1007.5,458 1008.7,458.8 1010,459.6 1011.2,460.4 1012.5,461.2 1013.8,462 1015,462.8 1016.3,463.6 1017.6,464.4 1018.9,465.2 1020.2,465.9 1021.5,466.7 1022.8,467.4 1024.1,468.2 1025.4,468.9 1026.7,469.6 1028.1,470.3 1029.4,470.9 1030.8,471.6 1032.2,472.3 1033.6,472.9 1035,473.5 1036.5,474.4 1038,475 1039.5,475.4 1041.1,475.6 1042.6,475.6 1044.1,475.5 1045.7,475.3 1047.2,475 1048.7,474.6 1050.3,474.2 1051.8,473.8 1053.3,473.5 1054.8,473.2 1056.4,473 1057.9,472.9 1059.3,473 1060.8,473.2 1062.3,473.6 1063.7,474.1 1065.2,474.7 1066.6,475.3 1068,476 1069.5,476.7 1070.9,477.3 1072.4,477.8 1073.8,478.1 1075.3,478.4 1076.8,478.4 1078.2,478.2 1079.7,477.9 1081.1,477.4 1082.6,476.8 1084,476.3 1085.5,475.8 1087,475.4 1088.5,475.2 1090,475 1091.5,475 1093,475.1 1094.5,475.2 1096,475.3 1097.5,475.5 1099,475.7 1100.6,475.9 1102.1,476 1103.6,476.2 1105.1,476.2 1106.6,476.2 1108.1,476.1 1109.6,476 1111.1,475.8 1112.6,475.5 1114.1,475.2 1115.6,474.9 1117,474.5 1118.5,474 1120,473.5 1121.5,473 1122.9,472.5 1124.4,471.9 1125.8,471.3 1127.2,470.7 1128.6,470.1 1130,469.5 1131.4,468.8 1132.8,468.2 1134.2,467.5 1135.5,466.9" stroke="#ee8010" stroke-width="3.5" fill="none" stroke-linejoin="round" stroke-linecap="round"/>
<path d="M821.7,268.4 823.1,268.8 824.6,269.2 826,269.6 827.5,270 828.9,270.4 830.3,270.8 831.8,271.3 833.2,271.8 834.6,272.2 836,272.7 837.5,273.2 838.9,273.8 840.3,274.3 841.7,274.8 843.1,275.4 844.5,276 845.9,276.5 847.3,277.1 848.6,277.8 850,278.4 851.4,279 852.8,279.7 854.1,280.3 855.5,281 856.8,281.7 858.2,282.3 859.5,283 860.9,283.8 862.2,284.5 863.5,285.2 864.9,286 866.2,286.7 867.5,287.5 868.8,288.3 870.1,289.1 871.4,289.9 872.7,290.7 874,291.5 875.2,292.4 876.5,293.2 877.8,294.1 879,294.9 880.3,295.8 881.5,296.7 882.8,297.6 884,298.5 885.2,299.4 886.4,300.3 887.6,301.3 888.8,302.2 890,303.2 891.2,304.1 892.4,305.1 893.6,306.1 894.7,307.1 895.9,308.1 897,309.1 898.2,310.1 899.3,311.1 900.4,312.1 901.5,313.2 902.7,314.2 903.7,315.3 904.8,316.3 905.9,317.4 907,318.5 908.1,319.6 909.1,320.7 910.2,321.8 911.2,322.9 912.2,324 913.2,325.1 914.3,326.3 915.3,327.4 916.2,328.6 917.2,329.7 918.2,330.9 919.2,332.1 920.1,333.2 921,334.4 922,335.6 922.9,336.8 923.8,338 924.7,339.2 925.6,340.4 926.5,341.6 927.4,342.9 928.2,344.1 929.1,345.3 929.9,346.6 930.7,347.8 931.5,349.1 932.3,350.3 933.1,351.6 933.9,352.9 934.7,354.1 935.4,355.4 936.2,356.7 936.9,358 937.6,359.3 938.4,360.6 939.1,361.9 939.8,363.2 940.5,364.5 941.1,365.8 941.8,367.2 942.4,368.5 943.1,369.8 943.7,371.2 944.4,372.5 945,373.8 945.6,375.2 946.2,376.6 946.8,377.9 947.3,379.3 947.9,380.6 948.5,382 949,383.4 949.5,384.8 950.1,386.2 950.6,387.5 951.1,388.9 951.6,390.3 952.1,391.7 952.6,393.1 953.1,394.5 953.5,396 954,397.4 954.5,398.8 954.9,400.2 955.3,401.6 955.8,403.1 956.2,404.5 956.6,405.9 957,407.4 957.4,408.8 957.8,410.2 958.2,411.7 958.5,413.1 958.9,414.6 959.3,416.1 959.6,417.5 960,419 960.3,420.4 960.6,421.9 961,423.4 961.3,424.8 961.6,426.3 961.9,427.8 962.2,429.3 962.5,430.8 962.7,432.2 963,433.7 963.3,435.2 963.5,436.7 963.8,438.2 964.1,439.7 964.3,441.2 964.5,442.7 964.8,444.2 965,445.7 965.2,447.2 965.4,448.7 965.6,450.2 965.8,451.7 966,453.2 966.2,454.7 966.4,456.3 966.6,457.8 966.8,459.3 966.9,460.8 967.1,462.3 967.3,463.9 967.4,465.4 967.6,466.9 967.7,468.4 967.9,469.9 968,471.5 968.1,473 968.3,474.5 968.4,476.1 968.5,477.6 968.6,479.1 968.7,480.6 968.9,482.2 969,483.7 969.1,485.2 969.2,486.8 969.2,488.3 969.3,489.8 969.4,491.4 969.5,492.9 969.6,494.4 969.7,496 969.7,497.5 969.8,499.1 969.9,500.6 969.9,502.1 970,503.7 970.1,505.2 970.1,506.7 970.2,508.3 970.2,509.8 970.3,511.3 970.3,512.9 970.3,514.4 970.4,515.9 970.4,517.5 970.5,519 970.5,520.5 970.5,522 970.5,523.6 970.6,525.1 970.6,526.6 970.6,528.2 970.6,529.7 970.7,531.2 970.7,532.7 970.7,534.3 970.7,535.8 970.7,537.3 970.8,538.8 970.8,540.3 970.8,541.8 970.8,543.4 970.8,544.9 970.8,546.4 970.8,547.9 970.8,549.4 970.8,550.9 970.9,552.4 970.9,553.9 970.9,555.4 970.9,556.9 970.9,558.4 970.9,559.9 970.9,561.4 970.9,562.9 970.9,564.4 970.9,565.9 970.9,567.3 970.9,568.8 970.9,570.3 971,571.8 971,573.3 971,574.7 971,576.2 971,577.7 971,579.1 971,580.6 971,582 971.1,583.5 971.1,584.9 971.1,586.4 971.2,584.9 971.3,583.3 971.4,581.8 971.4,580.3 971.5,578.7 971.6,577.2 971.6,575.7 971.7,574.2 971.8,572.6 971.8,571.1 971.9,569.6 971.9,568.1 972,566.6 972,565 972.1,563.5 972.1,562 972.2,560.5 972.2,559 972.3,557.5 972.3,556 972.3,554.5 972.4,553 972.4,551.4 972.4,549.9 972.5,548.4 972.5,546.9 972.5,545.4 972.6,543.9 972.6,542.4 972.6,540.9 972.6,539.4 972.7,537.9 972.7,536.4 972.7,534.9 972.8,533.4 972.8,531.9 972.8,530.4 972.8,529 972.9,527.5 972.9,526 972.9,524.5 973,523 973,521.5 973,520 973.1,518.5 973.1,517 973.2,515.5 973.2,514 973.3,512.5 973.3,511 973.4,509.5 973.4,508 973.5,506.5 973.5,505.1 973.6,503.6 973.6,502.1 973.7,500.6 973.8,499.1 973.9,497.6 973.9,496.1 974,494.6 974.1,493.1 974.2,491.6 974.3,490.1 974.4,488.6 974.5,487.1 974.6,485.6 974.7,484.1 974.8,482.6 974.9,481.1 975,479.6 975.2,478.1 975.3,476.6 975.4,475.1 975.6,473.6 975.7,472.1 975.9,470.6 976.1,469.1 976.2,467.6 976.4,466.1 976.6,464.5 976.8,463 976.9,461.5 977.1,460 977.3,458.5 977.6,457 977.8,455.4 978,453.9 978.2,452.4 978.5,450.9 978.7,449.4 979,447.8 979.2,446.3 979.5,444.8 979.8,443.2 980.1,441.7 980.3,440.2 980.6,438.6 981,437.1 981.3,435.6 981.6,434 981.9,432.5 982.3,430.9 982.6,429.4 983,427.8 983.4,426.3 983.8,424.8 984.3,423.4 984.8,422 985.4,420.6 986,419.3 986.7,418.1 987.4,417 988.3,415.9 989.2,414.9 990.2,414.1 991.3,413.3 992.5,412.7 993.7,412.2 995.1,412 996.4,412 997.6,412.3 998.9,412.8 1000.1,413.5 1001.4,414.4 1002.6,415.3 1003.8,416.4 1005,417.5 1006.2,418.7 1007.4,419.8 1008.6,420.9 1009.8,421.9 1011,422.8 1012.3,423.7 1013.5,424.5 1014.7,425.3 1016,426 1017.2,426.8 1018.5,427.5 1019.8,428.2 1021.1,429 1022.3,429.7 1023.6,430.5 1024.9,431.2 1026.2,432 1027.6,432.8 1028.9,433.5 1030.2,434.3 1031.5,435.1 1032.9,435.8 1034.2,436.6 1035.6,437.3 1036.9,438 1038.3,438.7 1039.7,439.4 1041,440.1 1042.4,440.8 1043.8,441.4 1045.1,442.1 1046.5,442.7 1047.9,443.3 1049.3,443.8 1050.7,444.4 1052.1,444.9 1053.5,445.4 1054.9,445.8 1056.3,446.3 1057.7,446.8 1059.1,447.2 1060.4,447.7 1061.8,448.2 1063.2,448.7 1064.6,449.2 1066,449.7 1067.4,450.2 1068.7,450.8 1070.1,451.4 1071.5,452.1 1072.8,452.7 1074.2,453.4 1075.5,454.1 1076.8,454.9 1078.2,455.7 1079.5,456.5 1080.8,457.3 1082,458.2 1083.3,459.1 1084.6,460 1085.8,460.9 1087,461.9 1088.2,462.9 1089.4,463.9 1090.5,464.9 1091.7,466 1092.8,467 1093.8,468.1 1094.9,469.2 1095.9,470.4 1097,471.5 1097.9,472.7 1098.9,473.9 1099.8,475 1100.7,476.3 1101.6,477.5 1102.4,478.7 1103.2,480 1104,481.2 1104.7,482.5 1105.4,483.8 1106.1,485.1 1106.8,486.4 1107.4,487.7 1108.1,489.1 1108.7,490.4 1109.2,491.8 1109.8,493.1 1110.3,494.5 1110.8,495.9 1111.3,497.3 1111.8,498.7 1112.2,500.1 1112.6,501.5 1113,503 1113.4,504.4 1113.8,505.8 1114.2,507.3 1114.5,508.7 1114.9,510.2 1115.2,511.7 1115.5,513.1 1115.8,514.6 1116.1,516.1 1116.4,517.6 1116.6,519.1 1116.9,520.6 1117.2,522.1 1117.4,523.6 1117.6,525.1 1117.9,526.6 1118.1,528.1 1118.3,529.6 1118.6,531.1 1118.8,532.6 1119,534.1 1119.2,535.6 1119.4,537.1 1119.6,538.6 1119.8,540.1 1120.1,541.6 1120.3,543.1 1120.5,544.6 1120.7,546.1 1121,547.6 1121.2,549.1 1121.6,547.6 1122,546.2 1122.4,544.7 1122.8,543.2 1123.2,541.7 1123.6,540.2 1123.9,538.8 1124.2,537.3 1124.6,535.8 1124.9,534.3 1125.2,532.8 1125.4,531.3 1125.7,529.8 1126,528.3 1126.3,526.8 1126.5,525.2 1126.8,523.7 1127,522.2 1127.2,520.7 1127.5,519.2 1127.7,517.7 1127.9,516.1 1128.1,514.6 1128.3,513.1 1128.5,511.6 1128.7,510.1 1129,508.5 1129.2,507 1129.4,505.5 1129.6,504 1129.8,502.5 1130,500.9 1130.2,499.4 1130.4,497.9 1130.6,496.4 1130.9,494.9 1131.1,493.3 1131.3,491.8 1131.6,490.3 1131.8,488.8 1132.1,487.3 1132.3,485.8 1132.6,484.3 1132.9,482.8 1133.2,481.3 1133.5,479.8 1133.8,478.3 1134.1,476.8 1134.4,475.3 1134.8,473.8 1135.1,472.3 1135.5,470.8" stroke="#ee8010" stroke-width="3.5" fill="none" stroke-linejoin="round" stroke-linecap="round"/>
<path d="M820.9,33.5 822.3,33.9 823.7,34.4 825.2,34.9 826.6,35.3 828,35.8 829.4,36.3 830.9,36.8 832.3,37.3 833.7,37.8 835.1,38.3 836.5,38.8 837.9,39.4 839.4,39.9 840.8,40.5 842.2,41 843.6,41.6 845,42.2 846.4,42.8 847.8,43.4 849.2,44 850.6,44.6 852,45.2 853.4,45.8 854.8,46.5 856.2,47.1 857.5,47.8 858.9,48.4 860.3,49.1 861.7,49.8 863,50.5 864.4,51.2 865.8,51.9 867.1,52.6 868.5,53.3 869.8,54 871.1,54.8 872.5,55.5 873.8,56.3 875.1,57 876.4,57.8 877.7,58.6 879,59.4 880.3,60.2 881.6,61 882.9,61.8 884.2,62.6 885.5,63.5 886.7,64.3 888,65.2 889.2,66 890.5,66.9 891.7,67.8 892.9,68.7 894.1,69.6 895.3,70.5 896.5,71.4 897.7,72.3 898.9,73.2 900.1,74.2 901.3,75.1 902.4,76.1 903.6,77 904.7,78 905.8,79 907,80 908.1,81 909.2,82 910.2,83 911.3,84.1 912.4,85.1 913.4,86.1 914.5,87.2 915.5,88.3 916.5,89.3 917.6,90.4 918.6,91.5 919.5,92.6 920.5,93.7 921.5,94.9 922.4,96 923.4,97.1 924.3,98.3 925.2,99.4 926.1,100.6 927,101.8 927.9,103 928.7,104.1 929.6,105.3 930.4,106.5 931.3,107.8 932.1,109 932.9,110.2 933.7,111.5 934.5,112.7 935.3,114 936,115.2 936.8,116.5 937.5,117.8 938.3,119 939,120.3 939.7,121.6 940.4,122.9 941.1,124.2 941.8,125.6 942.5,126.9 943.1,128.2 943.8,129.5 944.4,130.9 945.1,132.2 945.7,133.6 946.3,134.9 946.9,136.3 947.5,137.7 948.1,139 948.7,140.4 949.3,141.8 949.9,143.2 950.4,144.6 951,146 951.5,147.4 952.1,148.8 952.6,150.2 953.1,151.6 953.6,153 954.1,154.4 954.6,155.8 955.1,157.3 955.6,158.7 956.1,160.1 956.6,161.6 957,163 957.5,164.4 957.9,165.9 958.4,167.3 958.8,168.8 959.2,170.2 959.7,171.7 960.1,173.1 960.5,174.6 960.9,176.1 961.3,177.5 961.7,179 962.1,180.5 962.5,181.9 962.9,183.4 963.3,184.9 963.6,186.3 964,187.8 964.4,189.3 964.7,190.7 965.1,192.2 965.4,193.7 965.8,195.2 966.1,196.6 966.4,198.1 966.8,199.6 967.1,201.1 967.4,202.5 967.8,204 968.1,205.5 968.4,207 968.7,208.4 969,209.9 969.3,211.4 969.6,212.9 969.9,214.4 970.2,215.8 970.5,217.3 970.8,218.8 971,220.3 971.3,221.8 971.6,223.2 971.9,224.7 972.1,226.2 972.4,227.7 972.7,229.2 972.9,230.7 973.2,232.1 973.4,233.6 973.7,235.1 973.9,236.6 974.2,238.1 974.4,239.6 974.7,241.1 974.9,242.5 975.1,244 975.4,245.5 975.6,247 975.8,248.5 976.1,250 976.3,251.5 976.5,253 976.7,254.5 976.9,255.9 977.2,257.4 977.4,258.9 977.6,260.4 977.8,261.9 978,263.4 978.2,264.9 978.4,266.4 978.6,267.9 978.8,269.4 979,270.8 979.2,272.3 979.4,273.8 979.6,275.3 979.8,276.8 980,278.3 980.2,279.8 980.4,281.3 980.6,282.8 980.8,284.3 981,285.8 981.2,287.3 981.4,288.7 981.6,290.2 981.8,291.7 982,293.2 982.2,294.7 982.3,296.2 982.5,297.7 982.7,299.2 982.9,300.7 983.1,302.2 983.3,303.7 983.5,305.2 983.7,306.7 983.9,308.1 984,309.6 984.2,311.1 984.4,312.6 984.6,314.1 984.8,315.6 985,317.1 985.2,318.6 985.4,320.1 985.6,321.6 985.8,323.1 986,324.6 986.2,326 986.4,327.5 986.6,329 986.8,330.5 987,332 987.2,333.5 987.4,335 987.6,336.5 987.8,338 988,339.5 988.2,341 988.4,342.4 988.6,343.9 988.8,345.4 989,346.9 989.2,348.4 989.5,349.9 989.7,351.4 989.9,352.9 990.1,354.3 990.4,355.8 990.6,357.3 990.8,358.8 991,360.3 991.3,361.8 991.5,363.3 991.8,364.7 992,366.2 992.2,367.7 992.5,369.2 992.7,370.7 993,372.2 993.2,373.6 993.5,375.1 993.8,376.6 994,378.1 994.3,379.6 994.5,381.1 994.8,382.5 995.1,384 995.3,385.5 995.6,387 995.9,388.5 996.1,389.9 996.4,391.4 996.7,392.9 997,394.4 997.2,395.8 997.5,397.3 997.8,398.8 998.1,400.3 998.4,401.8 998.6,403.2 998.9,404.7 999.2,406.2 999.5,407.7 999.8,409.2 1000.1,410.6 1000.3,412.1 1000.6,413.6 1000.9,415.1 1001.2,416.5 1001.5,418 1001.8,419.5 1002.1,421 1002.3,422.5 1002.6,423.9 1002.9,425.4 1003.2,426.9 1003.5,428.4 1003.8,429.8 1004,431.3 1004.3,432.8 1004.6,434.3 1004.9,435.8 1005.1,437.2 1005.4,438.7 1005.7,440.2 1006,441.7 1006.2,443.2 1006.5,444.6 1006.8,446.1 1007.1,447.6 1007.3,449.1 1007.6,450.6 1007.9,452 1008.1,453.5 1008.4,455 1008.6,456.5 1008.9,458 1009.1,459.4 1009.4,460.9 1009.6,462.4 1009.9,463.9 1010.1,465.4 1010.4,466.9 1010.6,468.3 1010.9,469.8 1011.1,471.3 1011.3,472.8 1011.6,474.3 1011.8,475.8 1012,477.3 1012.2,478.7 1012.4,480.2 1012.7,481.7 1012.9,483.2 1013.1,484.7 1013.3,486.2 1013.5,487.7 1013.7,489.2 1013.9,490.7 1014.1,492.2 1014.2,493.6 1014.4,495.1 1014.6,496.6 1014.8,498.1 1014.9,499.6 1015.1,501.1 1015.3,502.6 1015.4,504.1 1015.6,505.6 1015.7,507.1 1015.9,508.6 1016,510.1 1016.2,511.6 1016.3,513.1 1016.4,514.6 1016.5,516.1 1016.6,517.6 1016.8,519.1 1016.9,520.6 1017,522.1 1017.1,523.6 1017.1,525.1 1017.2,526.6 1017.3,528.1 1017.4,529.6 1017.4,531.1 1017.5,532.7 1017.6,534.2 1017.6,535.7 1017.7,537.2 1017.7,538.7 1017.9,537.2 1018.1,535.7 1018.3,534.2 1018.5,532.7 1018.6,531.1 1018.8,529.6 1018.9,528.1 1019.1,526.6 1019.2,525 1019.3,523.5 1019.4,521.9 1019.5,520.4 1019.6,518.8 1019.7,517.3 1019.8,515.7 1019.9,514.2 1020,512.6 1020.1,511.1 1020.2,509.5 1020.3,508 1020.4,506.4 1020.6,504.9 1020.7,503.3 1020.8,501.8 1021,500.2 1021.2,498.7 1021.4,497.2 1021.6,495.6 1021.8,494.1 1022,492.6 1022.3,491.1 1022.6,489.6 1022.9,488.1 1023.2,486.6 1023.5,485.1 1023.9,483.6 1024.3,482.2 1024.7,480.7 1025.2,479.3 1025.7,477.8 1026.2,476.4 1026.7,475 1027.3,473.6 1027.9,472.2 1028.6,470.8 1029.3,469.4 1030,468.1 1030.8,466.7 1031.6,465.4 1032.5,464.1 1033.4,462.8 1034.3,461.5 1035.3,460.2 1036.1,458.8 1037,457.5 1037.9,456.3 1039,455.2 1040.2,454.2 1041.4,453.2 1042.8,452.4 1044.1,451.7 1045.5,451.1 1047,450.7 1048.5,450.4 1050,450.2 1051.5,450.2 1053,450.4 1054.5,450.7 1056,451.1 1057.5,451.4 1059,451.7 1060.5,451.8 1061.9,451.7 1063.4,451.2 1064.8,450.5 1066.2,449.7 1067.6,449 1069.1,448.5 1070.6,448.1 1072,447.8 1073.5,447.4 1075,447.1 1076.5,446.7 1078,446.4 1079.6,446 1081.1,445.8 1082.6,445.6 1084.1,445.5 1085.6,445.5 1087.1,445.6 1088.6,445.7 1090.1,446 1091.6,446.3 1093.1,446.5 1094.6,446.8 1096.1,446.9 1097.6,447 1099.2,447 1100.7,446.8 1102.2,446.5 1103.7,446 1105.2,445.4 1106.6,444.7 1107.9,443.9 1109.2,443.1 1110.4,442.2 1111.7,441.5 1113.1,441 1114.5,440.6 1116,440.3 1117.5,440.1 1119,440.1 1120.6,440.2 1122.2,440.3 1123.7,440.6 1125.3,440.9 1126.8,441.3 1128.3,441.8 1129.8,442.3 1131.2,442.8 1132.6,443.4 1133.9,444" stroke="#e80505" stroke-width="3.5" fill="none" stroke-linejoin="round" stroke-linecap="round"/>
<path d="M820.9,33.5 822.3,33.7 823.8,33.9 825.2,34.1 826.7,34.3 828.1,34.5 829.6,34.7 831,34.9 832.5,35.1 834,35.4 835.4,35.6 836.9,35.9 838.4,36.1 839.8,36.4 841.3,36.7 842.8,36.9 844.3,37.2 845.7,37.5 847.2,37.8 848.7,38.2 850.2,38.5 851.7,38.8 853.1,39.2 854.6,39.5 856.1,39.9 857.6,40.3 859,40.6 860.5,41 862,41.4 863.4,41.8 864.9,42.3 866.4,42.7 867.8,43.1 869.3,43.6 870.7,44 872.2,44.5 873.7,45 875.1,45.5 876.5,46 878,46.5 879.4,47 880.9,47.5 882.3,48 883.7,48.6 885.1,49.2 886.5,49.7 888,50.3 889.4,50.9 890.8,51.5 892.1,52.1 893.5,52.7 894.9,53.4 896.3,54 897.6,54.7 899,55.4 900.4,56 901.7,56.7 903,57.4 904.4,58.2 905.7,58.9 907,59.6 908.3,60.4 909.6,61.1 910.9,61.9 912.2,62.7 913.5,63.5 914.7,64.3 916,65.1 917.2,66 918.5,66.8 919.7,67.7 920.9,68.5 922.1,69.4 923.3,70.3 924.5,71.2 925.7,72.1 926.9,73.1 928,74 929.2,74.9 930.3,75.9 931.4,76.9 932.6,77.9 933.7,78.9 934.7,79.9 935.8,80.9 936.9,81.9 937.9,83 939,84 940,85.1 941,86.2 942,87.3 943,88.4 944,89.5 945,90.6 945.9,91.7 946.9,92.9 947.8,94 948.7,95.2 949.6,96.4 950.5,97.6 951.4,98.8 952.3,100 953.2,101.2 954,102.4 954.9,103.6 955.7,104.9 956.5,106.1 957.3,107.4 958.1,108.6 958.9,109.9 959.7,111.2 960.4,112.5 961.2,113.8 961.9,115.1 962.6,116.4 963.4,117.7 964.1,119 964.8,120.3 965.4,121.7 966.1,123 966.8,124.4 967.4,125.7 968.1,127.1 968.7,128.4 969.3,129.8 969.9,131.2 970.5,132.6 971.1,133.9 971.7,135.3 972.3,136.7 972.8,138.1 973.4,139.5 973.9,140.9 974.4,142.3 975,143.7 975.5,145.2 976,146.6 976.5,148 977,149.4 977.4,150.9 977.9,152.3 978.4,153.7 978.9,155.2 979.3,156.6 979.8,158.1 980.2,159.5 980.6,161 981.1,162.4 981.5,163.9 981.9,165.3 982.3,166.8 982.7,168.2 983.1,169.7 983.5,171.2 983.9,172.6 984.3,174.1 984.7,175.5 985,177 985.4,178.5 985.8,179.9 986.2,181.4 986.5,182.9 986.9,184.3 987.2,185.8 987.6,187.3 987.9,188.7 988.3,190.2 988.6,191.7 989,193.2 989.3,194.6 989.6,196.1 990,197.6 990.3,199 990.6,200.5 990.9,202 991.3,203.5 991.6,204.9 991.9,206.4 992.2,207.9 992.5,209.4 992.8,210.8 993.1,212.3 993.4,213.8 993.7,215.3 994,216.7 994.3,218.2 994.6,219.7 994.9,221.2 995.2,222.6 995.5,224.1 995.8,225.6 996.1,227.1 996.4,228.5 996.7,230 996.9,231.5 997.2,233 997.5,234.4 997.8,235.9 998.1,237.4 998.4,238.9 998.6,240.3 998.9,241.8 999.2,243.3 999.5,244.8 999.7,246.3 1000,247.7 1000.3,249.2 1000.6,250.7 1000.8,252.2 1001.1,253.6 1001.4,255.1 1001.7,256.6 1001.9,258.1 1002.2,259.5 1002.5,261 1002.8,262.5 1003,264 1003.3,265.4 1003.6,266.9 1003.9,268.4 1004.1,269.9 1004.4,271.3 1004.7,272.8 1005,274.3 1005.3,275.8 1005.5,277.2 1005.8,278.7 1006.1,280.2 1006.4,281.7 1006.7,283.1 1007,284.6 1007.2,286.1 1007.5,287.6 1007.8,289 1008.1,290.5 1008.4,292 1008.7,293.4 1009,294.9 1009.3,296.4 1009.6,297.8 1009.9,299.3 1010.2,300.8 1010.5,302.3 1010.8,303.7 1011.2,305.2 1011.5,306.7 1011.8,308.1 1012.1,309.6 1012.4,311.1 1012.8,312.5 1013.1,314 1013.4,315.4 1013.8,316.9 1014.1,318.4 1014.4,319.8 1014.8,321.3 1015.1,322.8 1015.5,324.2 1015.8,325.7 1016.2,327.1 1016.6,328.6 1016.9,330.1 1017.3,331.5 1017.7,333 1018,334.4 1018.4,335.9 1018.8,337.3 1019.2,338.8 1019.6,340.2 1020,341.7 1020.4,343.1 1020.8,344.6 1021.2,346 1021.6,347.5 1022,348.9 1022.4,350.4 1022.8,351.8 1023.2,353.3 1023.7,354.7 1024.1,356.2 1024.5,357.6 1024.9,359.1 1025.3,360.5 1025.8,362 1026.2,363.4 1026.6,364.9 1027.1,366.3 1027.5,367.8 1027.9,369.2 1028.4,370.6 1028.8,372.1 1029.2,373.5 1029.7,375 1030.1,376.4 1030.5,377.9 1031,379.3 1031.4,380.8 1031.8,382.2 1032.3,383.6 1032.7,385.1 1033.1,386.5 1033.6,388 1034,389.4 1034.4,390.9 1034.9,392.3 1035.3,393.8 1035.7,395.2 1036.1,396.6 1036.6,398.1 1037,399.5 1037.4,401 1037.8,402.4 1038.2,403.9 1038.7,405.3 1039.1,406.8 1039.5,408.2 1039.9,409.7 1040.3,411.1 1040.7,412.6 1041.1,414 1041.5,415.5 1041.9,416.9 1042.3,418.4 1042.6,419.8 1043,421.3 1043.4,422.7 1043.8,424.2 1044.2,425.6 1044.5,427.1 1044.9,428.5 1045.2,430 1045.6,431.5 1046,432.9 1046.3,434.4 1046.6,435.8 1047,437.3 1047.3,438.8 1047.7,440.2 1048,441.7 1048.3,443.1 1048.6,444.6 1048.9,446.1 1049.2,447.5 1049.5,449 1049.8,450.5 1050.1,451.9 1050.4,453.4 1050.7,454.9 1051,456.4 1051.2,457.8 1051.5,459.3 1051.8,460.8 1052,462.3 1052.3,463.7 1052.5,465.2 1052.8,466.7 1053,468.2 1053.3,469.6 1053.5,471.1 1053.7,472.6 1054,474.1 1054.2,475.6 1054.4,477.1 1054.6,478.5 1054.8,480 1055,481.5 1055.2,483 1055.4,484.5 1055.6,486 1055.8,487.5 1056,489 1056.2,490.4 1056.3,491.9 1056.5,493.4 1056.7,494.9 1056.8,496.4 1057,497.9 1057.2,499.4 1057.3,500.9 1057.5,502.4 1057.6,503.9 1057.7,505.4 1057.9,506.9 1058,508.4 1058.2,509.9 1058.3,511.4 1058.4,512.9 1058.5,514.4 1058.7,515.9 1058.8,517.4 1058.9,518.9 1059,520.4 1059.1,521.9 1059.2,523.4 1059.3,524.9 1059.4,526.4 1059.5,527.9 1059.6,529.4 1059.7,530.9 1059.8,532.4 1059.9,533.9 1060,535.4 1060,536.9 1060.1,538.4 1060.2,539.9 1060.3,541.4 1060.3,542.9 1060.4,544.4 1060.5,545.9 1060.5,547.4 1060.6,548.9 1060.6,550.4 1060.7,551.9 1060.7,553.4 1060.8,554.9 1060.8,556.4 1060.9,558 1060.9,559.5 1061,561 1061,562.5 1061,564 1061.1,565.5 1061.1,567 1061.1,568.5 1061.2,570 1061.2,571.5 1061.2,573 1061.3,574.5 1061.3,576 1061.3,577.5 1061.3,579.1 1061.3,580.6 1061.4,582.1 1061.4,583.6 1061.4,585.1 1061.4,586.6 1061.4,588.1 1061.5,586.6 1061.7,585.2 1061.8,583.7 1061.9,582.2 1062,580.8 1062.1,579.3 1062.2,577.8 1062.2,576.3 1062.3,574.8 1062.3,573.3 1062.4,571.8 1062.4,570.3 1062.5,568.8 1062.5,567.3 1062.5,565.8 1062.5,564.2 1062.6,562.7 1062.6,561.2 1062.6,559.7 1062.6,558.1 1062.6,556.6 1062.6,555 1062.6,553.5 1062.6,552 1062.6,550.4 1062.5,548.9 1062.5,547.3 1062.5,545.8 1062.5,544.2 1062.5,542.7 1062.5,541.1 1062.5,539.6 1062.5,538 1062.5,536.5 1062.5,534.9 1062.5,533.4 1062.6,531.8 1062.6,530.3 1062.6,528.7 1062.6,527.2 1062.7,525.6 1062.7,524.1 1062.7,522.6 1062.8,521 1062.9,519.5 1062.9,517.9 1063,516.4 1063.1,514.9 1063.2,513.3 1063.3,511.8 1063.4,510.3 1063.6,508.8 1063.7,507.2 1063.8,505.7 1064,504.2 1064.2,502.7 1064.4,501.2 1064.6,499.7 1064.8,498.2 1065,496.7 1065.2,495.2 1065.5,493.7 1065.8,492.3 1066.1,490.8 1066.4,489.3 1066.7,487.9 1067,486.4 1067.4,484.9 1067.8,483.5 1068.2,482.1 1068.6,480.6 1069,479.2 1069.4,477.8 1069.9,476.4 1070.4,475 1070.9,473.6 1071.5,472.2 1072,470.8 1072.6,469.4 1073.2,468.1 1073.8,466.7 1074.5,465.3 1075.1,464 1075.8,462.7 1076.5,461.3 1077.3,460 1078.1,458.7 1078.9,457.4 1079.7,456.1 1080.5,454.8 1081.4,453.6 1082.3,452.3 1083.2,451.1 1084.2,449.8 1085.2,448.6 1086.7,449 1088.3,449.3 1089.8,449.5 1091.4,449.7 1092.9,449.8 1094.4,449.7 1096,449.7 1097.5,449.5 1099,449.3 1100.6,449 1102.1,448.7 1103.6,448.3 1105.2,447.9 1106.7,447.5 1108.2,447.1 1109.8,446.7 1111.3,446.4 1112.8,446.1 1114.3,445.8 1115.8,445.6 1117.3,445.6 1118.8,445.7 1120.2,446 1121.6,446.5 1123,447.1 1124.3,447.9 1125.7,448.6 1127.1,449.4 1128.5,450.1 1130,450.7 1131.4,451.1 1132.9,451.4 1134.5,451.5" stroke="#e80505" stroke-width="3.5" fill="none" stroke-linejoin="round" stroke-linecap="round"/>
<path d="M820.9,18.4 822.3,18.8 823.8,19.1 825.2,19.5 826.7,19.9 828.1,20.3 829.5,20.7 831,21.2 832.4,21.6 833.9,22 835.3,22.5 836.7,22.9 838.2,23.4 839.6,23.8 841,24.3 842.5,24.8 843.9,25.3 845.3,25.8 846.7,26.3 848.2,26.8 849.6,27.3 851,27.9 852.4,28.4 853.8,28.9 855.2,29.5 856.6,30.1 858,30.6 859.4,31.2 860.8,31.8 862.2,32.4 863.6,33 865,33.6 866.4,34.2 867.8,34.9 869.1,35.5 870.5,36.2 871.9,36.8 873.3,37.5 874.6,38.2 876,38.8 877.3,39.5 878.7,40.2 880,40.9 881.3,41.6 882.7,42.4 884,43.1 885.3,43.8 886.6,44.6 887.9,45.3 889.2,46.1 890.5,46.9 891.8,47.7 893.1,48.5 894.4,49.3 895.7,50.1 896.9,50.9 898.2,51.7 899.5,52.5 900.7,53.4 902,54.2 903.2,55.1 904.4,56 905.6,56.8 906.8,57.7 908.1,58.6 909.3,59.5 910.4,60.4 911.6,61.4 912.8,62.3 914,63.2 915.1,64.2 916.3,65.1 917.4,66.1 918.6,67.1 919.7,68.1 920.8,69.1 921.9,70.1 923,71.1 924.1,72.1 925.2,73.1 926.3,74.2 927.3,75.2 928.4,76.3 929.4,77.3 930.4,78.4 931.5,79.5 932.5,80.6 933.5,81.7 934.5,82.8 935.5,83.9 936.4,85 937.4,86.2 938.4,87.3 939.3,88.5 940.2,89.6 941.2,90.8 942.1,92 943,93.1 943.9,94.3 944.8,95.5 945.7,96.7 946.5,98 947.4,99.2 948.2,100.4 949.1,101.6 949.9,102.9 950.8,104.1 951.6,105.4 952.4,106.7 953.2,107.9 954,109.2 954.8,110.5 955.5,111.8 956.3,113.1 957.1,114.4 957.8,115.7 958.6,117 959.3,118.3 960.1,119.6 960.8,120.9 961.5,122.3 962.2,123.6 962.9,124.9 963.6,126.3 964.3,127.6 965,129 965.7,130.3 966.4,131.7 967,133 967.7,134.4 968.3,135.8 969,137.2 969.6,138.5 970.3,139.9 970.9,141.3 971.5,142.7 972.1,144.1 972.7,145.5 973.4,146.9 974,148.2 974.6,149.6 975.2,151 975.7,152.4 976.3,153.9 976.9,155.3 977.5,156.7 978,158.1 978.6,159.5 979.2,160.9 979.7,162.3 980.3,163.7 980.8,165.1 981.4,166.5 981.9,168 982.4,169.4 983,170.8 983.5,172.2 984,173.6 984.5,175 985,176.5 985.6,177.9 986.1,179.3 986.6,180.7 987.1,182.1 987.5,183.6 988,185 988.5,186.4 989,187.8 989.5,189.3 989.9,190.7 990.4,192.1 990.9,193.6 991.3,195 991.8,196.4 992.2,197.9 992.6,199.3 993.1,200.7 993.5,202.2 993.9,203.6 994.3,205.1 994.8,206.5 995.2,207.9 995.6,209.4 996,210.8 996.4,212.3 996.7,213.7 997.1,215.2 997.5,216.7 997.9,218.1 998.3,219.6 998.6,221 999,222.5 999.3,223.9 999.7,225.4 1000.1,226.9 1000.4,228.3 1000.8,229.8 1001.1,231.3 1001.4,232.7 1001.8,234.2 1002.1,235.7 1002.5,237.1 1002.8,238.6 1003.1,240.1 1003.5,241.5 1003.8,243 1004.2,244.5 1004.5,245.9 1004.8,247.4 1005.2,248.9 1005.5,250.3 1005.8,251.8 1006.2,253.3 1006.5,254.7 1006.9,256.2 1007.2,257.7 1007.6,259.1 1007.9,260.6 1008.3,262.1 1008.6,263.5 1009,265 1009.3,266.4 1009.7,267.9 1010.1,269.4 1010.4,270.8 1010.8,272.3 1011.2,273.7 1011.6,275.2 1012,276.6 1012.4,278.1 1012.8,279.5 1013.2,281 1013.6,282.4 1014,283.9 1014.4,285.3 1014.9,286.8 1015.3,288.2 1015.8,289.6 1016.2,291.1 1016.7,292.5 1017.1,293.9 1017.6,295.4 1018.1,296.8 1018.6,298.2 1019.1,299.6 1019.6,301 1020.1,302.5 1020.6,303.9 1021.2,305.3 1021.7,306.7 1022.3,308.1 1022.8,309.5 1023.4,310.9 1024,312.3 1024.6,313.7 1025.2,315 1025.8,316.4 1026.4,317.8 1027.1,319.2 1027.7,320.5 1028.3,321.9 1029,323.2 1029.7,324.6 1030.4,325.9 1031.1,327.3 1031.8,328.6 1032.5,329.9 1033.2,331.2 1033.9,332.6 1034.7,333.9 1035.4,335.2 1036.2,336.4 1037,337.7 1037.8,339 1038.6,340.3 1039.4,341.5 1040.2,342.8 1041.1,344 1041.9,345.3 1042.8,346.5 1043.6,347.7 1044.5,348.9 1045.4,350.1 1046.3,351.3 1047.2,352.5 1048.2,353.6 1049.1,354.8 1050,356 1051,357.1 1052,358.2 1053,359.3 1054,360.4 1055,361.5 1056,362.6 1057.1,363.7 1058.1,364.8 1059.2,365.8 1060.3,366.8 1061.3,367.9 1062.4,368.9 1063.6,369.9 1064.7,370.9 1065.8,371.8 1067,372.8 1068.2,373.8 1069.3,374.7 1070.5,375.6 1071.7,376.5 1072.9,377.4 1074.2,378.3 1075.4,379.1 1076.6,380 1077.9,380.8 1079.2,381.6 1080.4,382.4 1081.7,383.2 1083,384 1084.3,384.7 1085.7,385.5 1087,386.2 1088.3,386.9 1089.7,387.5 1091,388.2 1092.4,388.8 1093.8,389.5 1095.1,390.1 1096.5,390.7 1097.9,391.2 1099.3,391.8 1100.7,392.3 1102.2,392.8 1103.6,393.3 1105,393.8 1106.5,394.2 1107.9,394.6 1109.4,395.1 1110.8,395.4 1112.3,395.8 1113.8,396.1 1115.3,396.5 1116.8,396.8 1118.2,397 1119.7,397.3 1121.2,397.5 1122.8,397.7 1124.3,397.9 1125.8,398.1 1127.3,398.2 1128.8,398.3 1130.4,398.4 1131.9,398.5 1133.5,398.5 1135,398.5" stroke="#006e00" stroke-width="3.5" fill="none" stroke-linejoin="round" stroke-linecap="round"/>
<path d="M820.9,18.4 822.4,18.5 823.8,18.6 825.3,18.8 826.8,18.9 828.3,19.1 829.7,19.2 831.2,19.4 832.7,19.6 834.2,19.8 835.7,20 837.2,20.2 838.7,20.4 840.1,20.6 841.6,20.8 843.1,21.1 844.6,21.3 846.1,21.6 847.6,21.9 849.1,22.2 850.6,22.5 852.1,22.8 853.5,23.1 855,23.4 856.5,23.7 858,24.1 859.5,24.4 861,24.8 862.4,25.2 863.9,25.5 865.4,25.9 866.9,26.3 868.4,26.7 869.8,27.2 871.3,27.6 872.8,28 874.2,28.5 875.7,28.9 877.1,29.4 878.6,29.9 880,30.4 881.5,30.9 882.9,31.4 884.4,31.9 885.8,32.4 887.2,33 888.7,33.5 890.1,34.1 891.5,34.7 892.9,35.2 894.3,35.8 895.7,36.4 897.1,37 898.5,37.7 899.9,38.3 901.3,38.9 902.7,39.6 904.1,40.2 905.4,40.9 906.8,41.6 908.1,42.3 909.5,43 910.8,43.7 912.2,44.4 913.5,45.1 914.8,45.9 916.1,46.6 917.4,47.4 918.7,48.2 920,48.9 921.3,49.7 922.6,50.5 923.8,51.3 925.1,52.2 926.3,53 927.6,53.8 928.8,54.7 930,55.6 931.2,56.4 932.4,57.3 933.6,58.2 934.8,59.1 936,60.1 937.2,61 938.3,61.9 939.5,62.9 940.6,63.8 941.7,64.8 942.8,65.8 943.9,66.8 945,67.8 946.1,68.8 947.2,69.8 948.2,70.8 949.3,71.9 950.3,72.9 951.4,74 952.4,75.1 953.4,76.1 954.4,77.2 955.4,78.3 956.4,79.4 957.3,80.6 958.3,81.7 959.3,82.8 960.2,84 961.1,85.1 962.1,86.3 963,87.4 963.9,88.6 964.8,89.8 965.7,91 966.6,92.2 967.4,93.4 968.3,94.6 969.1,95.8 970,97.1 970.8,98.3 971.7,99.5 972.5,100.8 973.3,102 974.1,103.3 974.9,104.6 975.7,105.8 976.5,107.1 977.2,108.4 978,109.7 978.8,111 979.5,112.3 980.2,113.6 981,114.9 981.7,116.2 982.4,117.6 983.2,118.9 983.9,120.2 984.6,121.6 985.3,122.9 985.9,124.2 986.6,125.6 987.3,126.9 988,128.3 988.6,129.7 989.3,131 989.9,132.4 990.6,133.8 991.2,135.1 991.8,136.5 992.5,137.9 993.1,139.3 993.7,140.7 994.3,142.1 994.9,143.5 995.5,144.9 996.1,146.3 996.7,147.7 997.3,149.1 997.8,150.5 998.4,151.9 999,153.3 999.5,154.7 1000.1,156.1 1000.6,157.5 1001.2,158.9 1001.7,160.3 1002.3,161.7 1002.8,163.2 1003.3,164.6 1003.9,166 1004.4,167.4 1004.9,168.8 1005.4,170.3 1005.9,171.7 1006.4,173.1 1006.9,174.5 1007.4,176 1007.9,177.4 1008.4,178.8 1008.9,180.3 1009.4,181.7 1009.9,183.1 1010.4,184.5 1010.9,186 1011.4,187.4 1011.8,188.8 1012.3,190.3 1012.8,191.7 1013.3,193.1 1013.8,194.6 1014.2,196 1014.7,197.4 1015.2,198.9 1015.6,200.3 1016.1,201.8 1016.6,203.2 1017,204.6 1017.5,206.1 1018,207.5 1018.4,208.9 1018.9,210.4 1019.4,211.8 1019.8,213.2 1020.3,214.7 1020.8,216.1 1021.2,217.5 1021.7,219 1022.2,220.4 1022.7,221.8 1023.1,223.3 1023.6,224.7 1024.1,226.1 1024.5,227.6 1025,229 1025.5,230.4 1026,231.9 1026.5,233.3 1026.9,234.7 1027.4,236.1 1027.9,237.6 1028.4,239 1028.9,240.4 1029.4,241.8 1029.9,243.2 1030.4,244.7 1030.9,246.1 1031.4,247.5 1031.9,248.9 1032.4,250.3 1032.9,251.7 1033.4,253.1 1034,254.6 1034.5,256 1035,257.4 1035.6,258.8 1036.1,260.2 1036.6,261.6 1037.2,263 1037.7,264.4 1038.3,265.8 1038.8,267.2 1039.4,268.6 1040,269.9 1040.6,271.3 1041.1,272.7 1041.7,274.1 1042.3,275.5 1042.9,276.9 1043.5,278.2 1044.1,279.6 1044.7,281 1045.4,282.4 1046,283.7 1046.6,285.1 1047.2,286.5 1047.9,287.8 1048.5,289.2 1049.2,290.5 1049.9,291.9 1050.5,293.2 1051.2,294.6 1051.9,295.9 1052.6,297.3 1053.2,298.6 1053.9,299.9 1054.6,301.3 1055.3,302.6 1056.1,303.9 1056.8,305.2 1057.5,306.6 1058.2,307.9 1059,309.2 1059.7,310.5 1060.5,311.8 1061.2,313.1 1062,314.4 1062.7,315.7 1063.5,317 1064.3,318.3 1065.1,319.6 1065.9,320.8 1066.7,322.1 1067.5,323.4 1068.3,324.7 1069.1,325.9 1069.9,327.2 1070.7,328.5 1071.6,329.7 1072.4,331 1073.3,332.2 1074.1,333.4 1075,334.7 1075.8,335.9 1076.7,337.1 1077.6,338.4 1078.4,339.6 1079.3,340.8 1080.2,342 1081.1,343.2 1082,344.4 1082.9,345.6 1083.9,346.8 1084.8,348 1085.7,349.2 1086.6,350.4 1087.6,351.5 1088.5,352.7 1089.5,353.9 1090.4,355 1091.4,356.2 1092.4,357.3 1093.3,358.5 1094.3,359.6 1095.3,360.8 1096.3,361.9 1097.3,363 1098.3,364.1 1099.3,365.3 1100.4,366.4 1101.4,367.5 1102.4,368.6 1103.5,369.7 1104.5,370.7 1105.5,371.8 1106.6,372.9 1107.7,374 1108.7,375 1109.8,376.1 1110.9,377.1 1112,378.2 1113.1,379.2 1114.2,380.3 1115.3,381.3 1116.4,382.3 1117.5,383.3 1118.6,384.3 1119.8,385.3 1120.9,386.3 1122,387.3 1123.2,388.3 1124.3,389.3 1125.5,390.3 1126.7,391.2 1127.8,392.2 1129,393.1 1130.2,394.1 1131.4,395 1132.6,396 1133.8,396.9 1135,397.8" stroke="#006e00" stroke-width="3.5" fill="none" stroke-linejoin="round" stroke-linecap="round"/>
<path d="M821.4,80.1 822.7,80.8 824,81.5 825.3,82.2 826.6,82.9 827.9,83.6 829.2,84.3 830.5,85 831.8,85.7 833.1,86.4 834.5,87.1 835.8,87.8 837.1,88.6 838.5,89.3 839.8,90 841.1,90.7 842.5,91.4 843.8,92.1 845.1,92.8 846.5,93.6 847.8,94.3 849.1,95 850.5,95.8 851.8,96.5 853.2,97.3 854.5,98 855.8,98.8 857.1,99.5 858.5,100.3 859.8,101 861.1,101.8 862.4,102.6 863.7,103.4 865,104.2 866.4,105 867.7,105.8 868.9,106.6 870.2,107.4 871.5,108.2 872.8,109 874.1,109.9 875.3,110.7 876.6,111.6 877.8,112.4 879.1,113.3 880.3,114.2 881.6,115 882.8,115.9 884,116.8 885.2,117.7 886.4,118.7 887.6,119.6 888.7,120.5 889.9,121.5 891.1,122.4 892.2,123.4 893.3,124.4 894.5,125.4 895.6,126.4 896.7,127.4 897.8,128.4 898.8,129.4 899.9,130.5 901,131.5 902,132.6 903,133.7 904.1,134.7 905.1,135.8 906.1,136.9 907.1,138 908.1,139.1 909,140.3 910,141.4 911,142.5 911.9,143.7 912.8,144.9 913.8,146 914.7,147.2 915.6,148.4 916.5,149.6 917.4,150.8 918.2,152 919.1,153.2 920,154.4 920.8,155.6 921.6,156.9 922.5,158.1 923.3,159.4 924.1,160.6 924.9,161.9 925.7,163.2 926.5,164.4 927.2,165.7 928,167 928.7,168.3 929.5,169.6 930.2,170.9 931,172.2 931.7,173.5 932.4,174.8 933.1,176.2 933.8,177.5 934.5,178.8 935.1,180.2 935.8,181.5 936.5,182.9 937.1,184.2 937.8,185.6 938.4,186.9 939,188.3 939.6,189.7 940.3,191.1 940.9,192.4 941.4,193.8 942,195.2 942.6,196.6 943.2,198 943.7,199.4 944.3,200.8 944.9,202.2 945.4,203.6 945.9,205 946.5,206.4 947,207.8 947.5,209.2 948,210.7 948.5,212.1 949,213.5 949.5,214.9 949.9,216.3 950.4,217.8 950.9,219.2 951.3,220.6 951.8,222.1 952.2,223.5 952.7,224.9 953.1,226.4 953.5,227.8 953.9,229.3 954.3,230.7 954.8,232.2 955.2,233.6 955.5,235.1 955.9,236.5 956.3,238 956.7,239.4 957.1,240.9 957.5,242.4 957.8,243.8 958.2,245.3 958.5,246.7 958.9,248.2 959.2,249.7 959.6,251.1 959.9,252.6 960.2,254.1 960.6,255.6 960.9,257 961.2,258.5 961.5,260 961.8,261.5 962.2,262.9 962.5,264.4 962.8,265.9 963.1,267.4 963.4,268.9 963.6,270.4 963.9,271.8 964.2,273.3 964.5,274.8 964.8,276.3 965.1,277.8 965.3,279.3 965.6,280.8 965.9,282.3 966.1,283.8 966.4,285.2 966.7,286.7 966.9,288.2 967.2,289.7 967.4,291.2 967.7,292.7 967.9,294.2 968.2,295.7 968.4,297.2 968.7,298.7 968.9,300.2 969.2,301.7 969.4,303.2 969.6,304.7 969.9,306.2 970.1,307.7 970.4,309.2 970.6,310.7 970.8,312.2 971.1,313.7 971.3,315.2 971.5,316.6 971.8,318.1 972,319.6 972.2,321.1 972.5,322.6 972.7,324.1 972.9,325.6 973.2,327.1 973.4,328.6 973.6,330.1 973.9,331.6 974.1,333.1 974.4,334.6 974.6,336.1 974.8,337.6 975.1,339.1 975.3,340.5 975.6,342 975.8,343.5 976,345 976.3,346.5 976.5,348 976.8,349.5 977,351 977.3,352.4 977.5,353.9 977.8,355.4 978.1,356.9 978.3,358.4 978.6,359.8 978.8,361.3 979.1,362.8 979.4,364.3 979.6,365.8 979.9,367.2 980.1,368.7 980.4,370.2 980.7,371.7 980.9,373.1 981.2,374.6 981.5,376.1 981.7,377.6 982,379 982.3,380.5 982.5,382 982.8,383.5 983.1,384.9 983.4,386.4 983.6,387.9 983.9,389.4 984.2,390.8 984.4,392.3 984.7,393.8 985,395.3 985.2,396.7 985.5,398.2 985.8,399.7 986.1,401.1 986.3,402.6 986.6,404.1 986.9,405.6 987.1,407 987.4,408.5 987.7,410 987.9,411.5 988.2,412.9 988.5,414.4 988.7,415.9 989,417.4 989.3,418.8 989.5,420.3 989.8,421.8 990.1,423.3 990.3,424.7 990.6,426.2 990.8,427.7 991.1,429.2 991.4,430.7 991.6,432.1 991.9,433.6 992.1,435.1 992.4,436.6 992.6,438.1 992.9,439.5 993.1,441 993.4,442.5 993.6,444 993.9,445.5 994.1,447 994.4,448.5 994.6,449.9 994.8,451.4 995.1,452.9 995.3,454.4 995.5,455.9 995.8,457.4 996,458.9 996.2,460.4 996.5,461.9 996.7,463.4 996.9,464.9 997.1,466.4 997.3,467.9 997.6,469.4 997.8,470.9 998,472.4 998.2,473.9 998.4,475.4 998.6,476.9 998.9,475.5 999.2,474.1 999.5,472.6 999.9,471.2 1000.2,469.7 1000.5,468.2 1000.8,466.7 1001.1,465.2 1001.4,463.7 1001.7,462.1 1002.1,460.6 1002.4,459.1 1002.8,457.5 1003.1,456 1003.5,454.4 1003.8,452.9 1004.2,451.3 1004.6,449.8 1005,448.2 1005.4,446.7 1005.8,445.2 1006.3,443.6 1006.7,442.1 1007.2,440.6 1007.7,439.1 1008.2,437.6 1008.8,436.2 1009.3,434.7 1009.9,433.3 1010.5,431.8 1011.1,430.4 1011.7,429.1 1012.4,427.7 1013.1,426.4 1013.8,425 1014.6,423.7 1015.3,422.5 1016.1,421.2 1017,420 1017.8,418.9 1018.7,417.7 1019.7,416.6 1020.6,415.5 1021.6,414.5 1022.7,413.5 1023.7,412.5 1024.9,411.5 1026,410.6 1027.2,409.8 1028.4,409 1029.7,408.2 1030.9,407.5 1032.3,406.8 1033.6,406.1 1035,405.5 1036.4,404.9 1037.8,404.3 1039.3,403.8 1040.7,403.3 1042.2,402.8 1043.7,402.4 1045.2,402 1046.8,401.6 1048.3,401.3 1049.9,401 1051.4,400.7 1053,400.4 1054.6,400.1 1056.1,399.9 1057.7,399.7 1059.3,399.5 1060.9,399.4 1062.4,399.3 1064,399.1 1065.5,399 1067.1,399 1068.6,398.9 1070.1,398.8 1071.7,398.6 1073.2,398.5 1074.8,398.4 1076.3,398.2 1077.9,398.1 1079.4,398 1081,397.8 1082.5,397.7 1084.1,397.6 1085.6,397.5 1087.2,397.4 1088.7,397.2 1090.3,397.1 1091.8,397 1093.4,396.9 1094.9,396.9 1096.5,396.8 1098,396.7 1099.6,396.7 1101.1,396.6 1102.7,396.6 1104.2,396.5 1105.8,396.5 1107.3,396.5 1108.9,396.5 1110.4,396.5 1112,396.5 1113.5,396.6 1115.1,396.6 1116.6,396.7 1118.2,396.8 1119.7,396.9 1121.3,397 1122.8,397.1 1124.3,397.2 1125.9,397.4 1127.4,397.6 1129,397.8 1130.5,398 1132.1,398.2 1133.6,398.5" stroke="#0000ea" stroke-width="3.5" fill="none" stroke-linejoin="round" stroke-linecap="round"/>
<path d="M821.4,80.1 822.8,80.5 824.2,80.9 825.7,81.3 827.1,81.6 828.5,82 830,82.4 831.4,82.7 832.9,83.1 834.3,83.4 835.8,83.8 837.3,84.1 838.7,84.4 840.2,84.8 841.7,85.1 843.2,85.4 844.7,85.7 846.1,86.1 847.6,86.4 849.1,86.7 850.6,87 852.1,87.4 853.6,87.7 855,88 856.5,88.4 858,88.7 859.5,89.1 861,89.4 862.5,89.8 864,90.1 865.4,90.5 866.9,90.9 868.4,91.3 869.8,91.7 871.3,92.1 872.8,92.5 874.2,92.9 875.7,93.3 877.1,93.8 878.6,94.2 880,94.7 881.5,95.2 882.9,95.7 884.3,96.2 885.7,96.7 887.1,97.3 888.6,97.8 889.9,98.4 891.3,99 892.7,99.6 894.1,100.2 895.5,100.9 896.8,101.5 898.2,102.2 899.5,102.9 900.8,103.6 902.2,104.3 903.5,105.1 904.8,105.8 906.1,106.6 907.4,107.4 908.7,108.2 909.9,109 911.2,109.8 912.5,110.6 913.7,111.5 914.9,112.4 916.2,113.2 917.4,114.1 918.6,115 919.8,116 921,116.9 922.1,117.8 923.3,118.8 924.5,119.8 925.6,120.8 926.8,121.7 927.9,122.8 929,123.8 930.1,124.8 931.2,125.8 932.3,126.9 933.4,128 934.4,129 935.5,130.1 936.5,131.2 937.5,132.3 938.6,133.4 939.6,134.5 940.6,135.7 941.6,136.8 942.5,138 943.5,139.1 944.4,140.3 945.4,141.5 946.3,142.7 947.2,143.9 948.1,145.1 949,146.3 949.9,147.5 950.7,148.7 951.6,149.9 952.4,151.2 953.2,152.4 954,153.7 954.8,154.9 955.6,156.2 956.4,157.5 957.2,158.8 957.9,160 958.6,161.3 959.4,162.6 960.1,163.9 960.8,165.2 961.5,166.6 962.2,167.9 962.8,169.2 963.5,170.5 964.1,171.9 964.8,173.2 965.4,174.6 966,175.9 966.6,177.3 967.2,178.6 967.8,180 968.4,181.4 969,182.8 969.5,184.1 970.1,185.5 970.6,186.9 971.2,188.3 971.7,189.7 972.2,191.1 972.7,192.5 973.2,193.9 973.7,195.3 974.2,196.8 974.7,198.2 975.1,199.6 975.6,201.1 976.1,202.5 976.5,203.9 976.9,205.4 977.4,206.8 977.8,208.3 978.2,209.7 978.6,211.2 979,212.6 979.4,214.1 979.8,215.5 980.2,217 980.6,218.5 981,219.9 981.4,221.4 981.7,222.9 982.1,224.4 982.5,225.8 982.8,227.3 983.2,228.8 983.5,230.3 983.9,231.8 984.2,233.3 984.5,234.7 984.9,236.2 985.2,237.7 985.5,239.2 985.8,240.7 986.1,242.2 986.5,243.7 986.8,245.2 987.1,246.7 987.4,248.2 987.7,249.7 988,251.2 988.3,252.7 988.6,254.2 988.9,255.7 989.2,257.2 989.5,258.7 989.7,260.2 990,261.7 990.3,263.2 990.6,264.7 990.9,266.2 991.2,267.7 991.5,269.2 991.7,270.7 992,272.2 992.3,273.6 992.6,275.1 992.9,276.6 993.2,278.1 993.5,279.6 993.7,281.1 994,282.6 994.3,284.1 994.6,285.6 994.9,287.1 995.2,288.5 995.4,290 995.7,291.5 996,293 996.3,294.5 996.6,296 996.9,297.4 997.1,298.9 997.4,300.4 997.7,301.9 998,303.4 998.3,304.8 998.6,306.3 998.9,307.8 999.1,309.3 999.4,310.8 999.7,312.2 1000,313.7 1000.3,315.2 1000.6,316.7 1000.8,318.1 1001.1,319.6 1001.4,321.1 1001.7,322.6 1002,324 1002.3,325.5 1002.5,327 1002.8,328.4 1003.1,329.9 1003.4,331.4 1003.7,332.9 1004,334.3 1004.2,335.8 1004.5,337.3 1004.8,338.7 1005.1,340.2 1005.4,341.7 1005.7,343.2 1005.9,344.6 1006.2,346.1 1006.5,347.6 1006.8,349 1007.1,350.5 1007.4,352 1007.7,353.4 1007.9,354.9 1008.2,356.4 1008.5,357.8 1008.8,359.3 1009.1,360.8 1009.4,362.2 1009.6,363.7 1009.9,365.2 1010.2,366.7 1010.5,368.1 1010.8,369.6 1011.1,371.1 1011.4,372.5 1011.6,374 1011.9,375.5 1012.2,376.9 1012.5,378.4 1012.8,379.9 1013.1,381.3 1013.3,382.8 1013.6,384.3 1013.9,385.8 1014.2,387.2 1014.5,388.7 1014.8,390.2 1015.1,391.6 1015.3,393.1 1015.6,394.6 1015.9,396.1 1016.2,397.5 1016.5,399 1016.8,400.5 1017.1,402 1017.3,403.4 1017.6,404.9 1017.9,406.4 1018.2,407.9 1018.5,409.3 1018.8,410.8 1019.1,412.3 1019.3,413.8 1019.6,415.2 1019.9,416.7 1020.2,418.2 1020.5,419.7 1020.8,421.2 1021.1,422.6 1021.3,424.1 1021.6,425.6 1021.9,427.1 1022.2,428.6 1022.5,430.1 1022.8,431.5 1023,433 1023.3,434.5 1023.6,436 1023.9,437.5 1024.2,439 1024.4,440.5 1024.7,442 1025,443.4 1025.3,444.9 1025.6,446.4 1025.8,447.9 1026.1,449.4 1026.4,450.9 1026.6,452.4 1026.9,453.9 1027.2,455.4 1027.4,456.9 1027.7,458.3 1028,459.8 1028.2,461.3 1028.5,462.8 1028.7,464.3 1029,465.8 1029.2,467.3 1029.5,468.8 1029.7,470.3 1030,471.8 1030.2,473.3 1030.5,474.8 1030.7,476.3 1030.9,477.8 1031.2,479.3 1031.4,480.8 1031.6,482.3 1031.9,483.8 1032.1,485.2 1032.3,486.7 1032.5,488.2 1032.7,489.7 1032.9,491.2 1033.1,492.7 1033.4,494.2 1033.6,495.7 1033.8,497.2 1033.9,498.7 1034.1,500.2 1034.3,501.7 1034.5,503.2 1034.7,504.7 1034.9,506.2 1035,507.7 1035.2,509.2 1035.4,510.7 1035.5,512.2 1035.7,513.7 1035.9,515.2 1036,516.7 1036.1,518.2 1036.3,519.7 1036.4,521.2 1036.6,522.7 1036.7,524.2 1036.8,525.7 1036.9,527.2 1037,528.7 1037.2,530.2 1037.3,531.7 1037.4,533.2 1037.5,534.7 1037.6,536.2 1037.6,537.7 1037.7,539.2 1037.8,540.7 1037.9,542.2 1037.9,543.7 1038,545.2 1038.1,543.7 1038.2,542.2 1038.3,540.7 1038.4,539.2 1038.5,537.7 1038.6,536.2 1038.7,534.7 1038.8,533.2 1038.8,531.7 1038.9,530.1 1039,528.6 1039.1,527.1 1039.2,525.6 1039.3,524.1 1039.4,522.6 1039.5,521.1 1039.6,519.6 1039.7,518.1 1039.8,516.5 1039.9,515 1040,513.5 1040.1,512 1040.2,510.5 1040.3,509 1040.4,507.5 1040.5,506 1040.7,504.4 1040.8,502.9 1040.9,501.4 1041,499.9 1041.2,498.4 1041.3,496.9 1041.4,495.4 1041.6,493.9 1041.7,492.4 1041.9,490.9 1042.1,489.3 1042.2,487.8 1042.4,486.3 1042.6,484.8 1042.7,483.3 1042.9,481.8 1043.1,480.3 1043.3,478.8 1043.5,477.3 1043.7,475.8 1044,474.3 1044.2,472.8 1044.4,471.3 1044.7,469.8 1044.9,468.3 1045.2,466.8 1045.4,465.4 1045.7,463.9 1046,462.4 1046.2,460.9 1046.5,459.4 1046.8,457.9 1047.2,456.4 1047.5,455 1047.8,453.5 1048.2,452 1048.5,450.5 1048.9,449.1 1049.2,447.6 1049.6,446.1 1050,444.7 1050.4,443.2 1050.8,441.7 1051.2,440.3 1051.7,438.8 1052.1,437.4 1052.6,435.9 1053,434.5 1053.5,433 1054,431.6 1054.5,430.1 1055,428.7 1055.6,427.3 1056.1,425.8 1056.6,424.4 1057.2,423 1057.8,421.6 1058.4,420.2 1059,418.8 1059.7,417.4 1060.3,416 1061,414.6 1061.7,413.3 1062.4,412 1063.1,410.6 1063.9,409.4 1064.7,408.1 1065.5,406.8 1066.3,405.6 1067.2,404.4 1068.1,403.2 1069,402.1 1070,400.9 1071,399.8 1072,398.8 1073,397.7 1074.1,396.7 1075.2,395.8 1076.3,394.9 1077.5,394 1078.7,393.1 1080,392.3 1081.3,391.5 1082.6,390.8 1084,390.1 1085.4,389.5 1086.8,388.9 1088.3,388.3 1089.8,387.8 1091.4,387.4 1092.9,387 1094.5,386.6 1096.1,386.3 1097.7,386.1 1099.3,385.9 1101,385.7 1102.6,385.6 1104.2,385.5 1105.8,385.5 1107.4,385.6 1109,385.7 1110.6,385.9 1112.1,386.1 1113.7,386.3 1115.2,386.7 1116.6,387 1118.1,387.5 1119.4,388 1120.8,388.5 1122.1,389.1 1123.3,389.8 1124.5,390.5 1125.7,391.3 1126.7,392.2 1127.7,393.1 1128.7,394.1 1129.5,395.1 1130.3,396.2 1131,397.4 1131.7,398.7 1132.3,400 1132.8,401.3 1133.3,402.7 1133.7,404.1 1134.1,405.6 1134.4,407.1 1134.7,408.6 1134.9,410.1 1135.1,411.7 1135.2,413.3 1135.4,414.8 1135.5,416.4 1135.5,418 1135.5,419.6 1135.6,421.2 1135.5,422.8 1135.5,424.3 1135.5,425.9 1135.4,427.4 1135.4,428.8 1135.3,430.3" stroke="#0000ea" stroke-width="3.5" fill="none" stroke-linejoin="round" stroke-linecap="round"/>
<path d="M972.5,294L979.4,329.5" stroke="#e80505" stroke-width="2.9" stroke-dasharray="10.5 11.5" fill="none"/><path d="M983.4,354.6L976.5,342.5L988,341.6Z" fill="#e80505"/>
<path d="M1042.2,394.5L1028.8,334" stroke="#e80505" stroke-width="2.9" stroke-dasharray="12 11.6" fill="none"/><path d="M1025.3,321L1021,333.8L1032.9,330.3Z" fill="#e80505"/>
<g transform="translate(449.93,21.2) scale(1,1.03)" fill="#000"><text x="0" y="0" font-size="28.99">[thickness]</text></g>
<path d="M444,67.6H507.7" stroke="#006e00" stroke-width="3.5"/>
<g transform="translate(516,77.5) scale(1,1.03)" fill="#000"><text x="0" y="0" font-size="29">30&#160;nm</text></g>
<path d="M444,102.7H507.7" stroke="#e80505" stroke-width="3.5"/>
<g transform="translate(513.94,112.6) scale(1,1.03)" fill="#000"><path transform="translate(0,0) scale(0.01416,-0.01416)" d="M583,0L583,1102Q518,1043 420,985Q307,924 223,894L223,1061Q374,1129 480,1220Q604,1325 647,1409L763,1409L763,0Z"/><text x="16.13" y="0" font-size="29">5&#160;nm</text></g>
<path d="M444,137.7H507.7" stroke="#0000ea" stroke-width="3.5"/>
<g transform="translate(513.94,147.6) scale(1,1.03)" fill="#000"><path transform="translate(0,0) scale(0.01416,-0.01416)" d="M583,0L583,1102Q518,1043 420,985Q307,924 223,894L223,1061Q374,1129 480,1220Q604,1325 647,1409L763,1409L763,0Z"/><text x="16.13" y="0" font-size="29">0&#160;nm</text></g>
<g transform="translate(995.55,28.8) scale(1,1.03)" fill="#000"><text x="0" y="0" font-size="28.7">[annealing&#160;temp.]</text></g>
<path d="M1056,75.9H1120" stroke="#006e00" stroke-width="3.5"/>
<g transform="translate(1127.74,86) scale(1,1.03)" fill="#000"><text x="0" y="0" font-size="29">250</text></g>
<g transform="translate(1183.67,70.6) scale(1,1.03)" fill="#000"><text x="0" y="0" font-size="17.5">o</text></g>
<g transform="translate(1193.13,86) scale(1,1.03)" fill="#000"><text x="0" y="0" font-size="29">C</text></g>
<path d="M1056,116.5H1120" stroke="#e80505" stroke-width="3.5"/>
<g transform="translate(1127.74,126.6) scale(1,1.03)" fill="#000"><text x="0" y="0" font-size="29">225</text></g>
<g transform="translate(1183.67,111.2) scale(1,1.03)" fill="#000"><text x="0" y="0" font-size="17.5">o</text></g>
<g transform="translate(1193.13,126.6) scale(1,1.03)" fill="#000"><text x="0" y="0" font-size="29">C</text></g>
<path d="M1056,157.3H1120" stroke="#0000ea" stroke-width="3.5"/>
<g transform="translate(1126.04,167.4) scale(1,1.03)" fill="#000"><path transform="translate(0,0) scale(0.01416,-0.01416)" d="M583,0L583,1102Q518,1043 420,985Q307,924 223,894L223,1061Q374,1129 480,1220Q604,1325 647,1409L763,1409L763,0Z"/><text x="16.13" y="0" font-size="29">75</text></g>
<g transform="translate(1183.67,152) scale(1,1.03)" fill="#000"><text x="0" y="0" font-size="17.5">o</text></g>
<g transform="translate(1193.13,167.4) scale(1,1.03)" fill="#000"><text x="0" y="0" font-size="29">C</text></g>
<path d="M1056,198.4H1120" stroke="#ee8010" stroke-width="3.5"/>
<g transform="translate(1126.04,208.5) scale(1,1.03)" fill="#000"><path transform="translate(0,0) scale(0.01416,-0.01416)" d="M583,0L583,1102Q518,1043 420,985Q307,924 223,894L223,1061Q374,1129 480,1220Q604,1325 647,1409L763,1409L763,0Z"/><text x="16.13" y="0" font-size="29">00</text></g>
<g transform="translate(1183.67,193.1) scale(1,1.03)" fill="#000"><text x="0" y="0" font-size="17.5">o</text></g>
<g transform="translate(1193.13,208.5) scale(1,1.03)" fill="#000"><text x="0" y="0" font-size="29">C</text></g>
<path d="M1056,233.3H1120" stroke="#000000" stroke-width="3.5"/>
<g transform="translate(1128.37,242.7) scale(1,1.03)" fill="#000"><text x="0" y="0" font-size="29">as-dep.</text></g>
<g transform="translate(286.71,699.6) scale(1,1.03)" fill="#000"><text x="0" y="0" font-size="34.6" font-style="italic">V</text></g>
<g transform="translate(308.78,709.5) scale(1,1.03)" fill="#000"><text x="0" y="0" font-size="24.25">GS</text></g>
<g transform="translate(352.95,699.6) scale(1,1.03)" fill="#000"><text x="0" y="0" font-size="36.31">(V)</text></g>
<g transform="translate(904.21,700) scale(1,1.03)" fill="#000"><text x="0" y="0" font-size="34.6" font-style="italic">V</text></g>
<g transform="translate(926.65,713.6) scale(1,1.03)" fill="#000"><text x="0" y="0" font-size="20.84">GS</text></g>
<g transform="translate(966.64,700) scale(1,1.03)" fill="#000"><text x="0" y="0" font-size="36.48">(V)</text></g>
<g transform="translate(26.9,382.74) rotate(-90) scale(1,1.03)" fill="#000"><text x="0" y="0" font-size="34.6">-</text></g>
<g transform="translate(26.9,369.97) rotate(-90) scale(1,1.03)" fill="#000"><text x="0" y="0" font-size="34.6" font-style="italic">I</text></g>
<g transform="translate(37.6,361.19) rotate(-90) scale(1,1.03)" fill="#000"><text x="0" y="0" font-size="22.99">DS</text></g>
<g transform="translate(26.9,317.35) rotate(-90) scale(1,1.03)" fill="#000"><text x="0" y="0" font-size="34.66">(A)</text></g>
<g transform="translate(646,385.54) rotate(-90) scale(1,1.03)" fill="#000"><text x="0" y="0" font-size="34.6">-</text></g>
<g transform="translate(646,371.97) rotate(-90) scale(1,1.03)" fill="#000"><text x="0" y="0" font-size="34.6" font-style="italic">I</text></g>
<g transform="translate(660,362.93) rotate(-90) scale(1,1.03)" fill="#000"><text x="0" y="0" font-size="19.9">DS</text></g>
<g transform="translate(646,323.29) rotate(-90) scale(1,1.03)" fill="#000"><text x="0" y="0" font-size="35.32">(A)</text></g>
<g transform="translate(21.51,26.6) scale(1,1.03)" fill="#000"><text x="0" y="0" font-size="26.82" font-weight="bold">a</text></g>
<g transform="translate(641.7,26.6) scale(1,1.03)" fill="#000"><text x="0" y="0" font-size="30.36" font-weight="bold">b</text></g>
</svg>
</body></html>
